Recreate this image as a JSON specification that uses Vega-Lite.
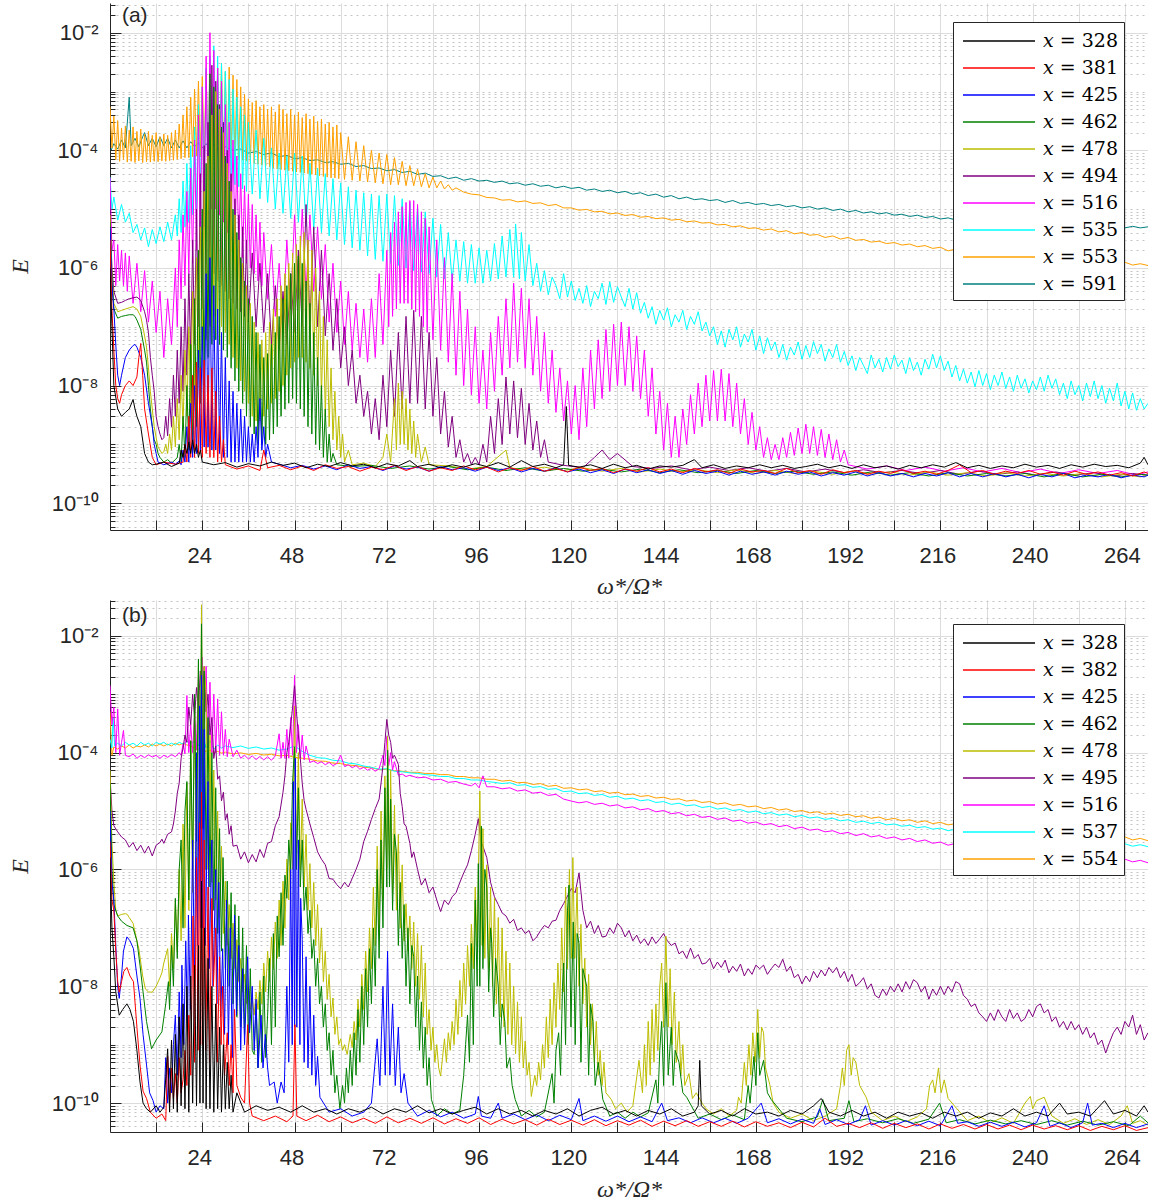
{
"$schema":"https://vega.github.io/schema/vega-lite/v6.json",
"background":"white",
"padding":{"left":8,"top":3,"right":0,"bottom":0},
"spacing":2,
"config":{"view":{"stroke":null},
 "axis":{"labelFont":"Liberation Sans","labelFontSize":22,"labelColor":"#262626","domainColor":"#262626","tickColor":"#262626","gridColor":"#dcdcdc","titleFont":"Liberation Serif","titleFontStyle":"italic","titleFontWeight":"normal","titleFontSize":24,"titleColor":"#262626"},
 "legend":{"orient":"none","fillColor":"white","strokeColor":"#262626","padding":6,"rowPadding":4,"labelFont":"DejaVu Serif","labelFontSize":19,"labelColor":"#000","symbolType":"M-3,0H3","symbolSize":576,"symbolStrokeWidth":1.3,"symbolOffset":27,"labelOffset":31,"labelLimit":0,"title":null}},
"resolve":{"scale":{"color":"independent"}},
"datasets":{
"a591":[{"x":0.3,"y":1e-4},{"x":1,"y":1.3e-4},{"x":2,"y":1.05e-4},{"x":3,"y":1.5e-4},{"x":4,"y":1.1e-4},{"x":5,"y":8e-4},{"x":5.5,"y":1.2e-4},{"x":6.5,"y":1.6e-4},{"x":7.5,"y":1.15e-4},{"x":8.5,"y":1.7e-4},{"x":9,"y":2e-4},{"x":10,"y":1.2e-4},{"x":11,"y":1.6e-4},{"x":12,"y":1.15e-4},{"x":13,"y":1.7e-4},{"x":14,"y":1.2e-4},{"x":15,"y":1.6e-4},{"x":16,"y":1.1e-4},{"x":17,"y":1.5e-4},{"x":18,"y":1.1e-4},{"x":19,"y":1.45e-4},{"x":20,"y":1.1e-4},{"x":21,"y":1.4e-4},{"x":22,"y":1.15e-4},{"x":23,"y":1.35e-4},{"x":24,"y":1.1e-4},{"x":25,"y":1.3e-4},{"x":26,"y":1.05e-4},{"x":27,"y":1.25e-4},{"x":28,"y":1.05e-4},{"x":30,"y":1.15e-4},{"x":32,"y":1e-4},{"x":34,"y":1.05e-4},{"x":36,"y":9e-5},{"x":38,"y":9.5e-5},{"x":40,"y":8.5e-5},{"x":42,"y":9e-5},{"x":44,"y":7.8e-5},{"x":46,"y":8.2e-5},{"x":48,"y":7.2e-5},{"x":50,"y":7.5e-5},{"x":52,"y":6.7e-5},{"x":54,"y":6.9e-5},{"x":56,"y":6.2e-5},{"x":58,"y":6.4e-5},{"x":60,"y":5.8e-5},{"x":62,"y":6e-5},{"x":64,"y":5.3e-5},{"x":66,"y":5.5e-5},{"x":68,"y":4.9e-5},{"x":70,"y":5e-5},{"x":72,"y":4.5e-5},{"x":74,"y":4.7e-5},{"x":76,"y":4.2e-5},{"x":78,"y":4.4e-5},{"x":80,"y":3.9e-5},{"x":82,"y":4.1e-5},{"x":84,"y":3.6e-5},{"x":86,"y":3.7e-5},{"x":88,"y":3.3e-5},{"x":90,"y":3.5e-5},{"x":92,"y":3.1e-5},{"x":94,"y":3.3e-5},{"x":96,"y":3e-5},{"x":98,"y":3.1e-5},{"x":100,"y":2.85e-5},{"x":102,"y":3e-5},{"x":104,"y":2.7e-5},{"x":106,"y":2.8e-5},{"x":108,"y":2.55e-5},{"x":110,"y":2.7e-5},{"x":112,"y":2.45e-5},{"x":114,"y":2.55e-5},{"x":116,"y":2.3e-5},{"x":118,"y":2.45e-5},{"x":120,"y":2.25e-5},{"x":122,"y":2.35e-5},{"x":124,"y":2.1e-5},{"x":126,"y":2.2e-5},{"x":128,"y":2e-5},{"x":130,"y":2.1e-5},{"x":132,"y":1.9e-5},{"x":134,"y":2e-5},{"x":136,"y":1.8e-5},{"x":138,"y":1.9e-5},{"x":140,"y":1.7e-5},{"x":142,"y":1.8e-5},{"x":144,"y":1.6e-5},{"x":146,"y":1.7e-5},{"x":148,"y":1.5e-5},{"x":150,"y":1.6e-5},{"x":152,"y":1.45e-5},{"x":154,"y":1.5e-5},{"x":156,"y":1.4e-5},{"x":158,"y":1.45e-5},{"x":160,"y":1.3e-5},{"x":162,"y":1.4e-5},{"x":164,"y":1.25e-5},{"x":166,"y":1.3e-5},{"x":168,"y":1.2e-5},{"x":170,"y":1.25e-5},{"x":172,"y":1.15e-5},{"x":174,"y":1.2e-5},{"x":176,"y":1.1e-5},{"x":178,"y":1.15e-5},{"x":180,"y":1.05e-5},{"x":182,"y":1.1e-5},{"x":184,"y":1e-5},{"x":186,"y":1.05e-5},{"x":188,"y":9.5e-6},{"x":190,"y":1e-5},{"x":192,"y":9e-6},{"x":194,"y":9.5e-6},{"x":196,"y":8.6e-6},{"x":198,"y":9e-6},{"x":200,"y":8.3e-6},{"x":202,"y":8.7e-6},{"x":204,"y":7.9e-6},{"x":206,"y":8.2e-6},{"x":208,"y":7.5e-6},{"x":210,"y":7.9e-6},{"x":212,"y":7.2e-6},{"x":214,"y":7.5e-6},{"x":216,"y":6.8e-6},{"x":218,"y":7.1e-6},{"x":220,"y":6.5e-6},{"x":222,"y":6.9e-6},{"x":224,"y":6.3e-6},{"x":226,"y":6.6e-6},{"x":228,"y":6.1e-6},{"x":230,"y":6.4e-6},{"x":232,"y":5.9e-6},{"x":234,"y":6.2e-6},{"x":236,"y":5.8e-6},{"x":238,"y":6.1e-6},{"x":240,"y":5.7e-6},{"x":242,"y":5.9e-6},{"x":244,"y":5.5e-6},{"x":246,"y":5.8e-6},{"x":248,"y":5.3e-6},{"x":250,"y":5.6e-6},{"x":252,"y":5.2e-6},{"x":254,"y":5.5e-6},{"x":256,"y":5.1e-6},{"x":258,"y":5.3e-6},{"x":260,"y":5e-6},{"x":262,"y":5.2e-6},{"x":264,"y":4.8e-6},{"x":266,"y":5.1e-6},{"x":268,"y":4.8e-6},{"x":270,"y":5e-6}],
"a553":[{"x":0,"y":5.5e-4},{"x":0.5,"y":1.1e-4},{"x":1,"y":3.8e-4},{"x":1.5,"y":7e-5},{"x":2,"y":3.2e-4},{"x":2.5,"y":6.5e-5},{"x":3,"y":2.4e-4},{"x":3.5,"y":7e-5},{"x":4,"y":2.6e-4},{"x":4.5,"y":6.3e-5},{"x":5,"y":2.2e-4},{"x":5.5,"y":6.5e-5},{"x":6,"y":2.5e-4},{"x":6.5,"y":6.2e-5},{"x":7,"y":2.1e-4},{"x":7.5,"y":6.6e-5},{"x":8,"y":2.3e-4},{"x":8.5,"y":6.2e-5},{"x":9,"y":1.9e-4},{"x":9.5,"y":6.4e-5},{"x":10,"y":2.1e-4},{"x":10.5,"y":6.3e-5},{"x":11,"y":1.8e-4},{"x":11.5,"y":6.5e-5},{"x":12,"y":2e-4},{"x":12.5,"y":6.4e-5},{"x":13,"y":1.7e-4},{"x":13.5,"y":6.6e-5},{"x":14,"y":1.9e-4},{"x":14.5,"y":6.5e-5},{"x":15,"y":1.8e-4},{"x":15.5,"y":6.7e-5},{"x":16,"y":2e-4},{"x":16.5,"y":6.8e-5},{"x":17,"y":2.2e-4},{"x":17.5,"y":7e-5},{"x":18,"y":2.8e-4},{"x":18.5,"y":7.2e-5},{"x":19,"y":4e-4},{"x":19.5,"y":7.5e-5},{"x":20,"y":5.5e-4},{"x":20.5,"y":7.5e-5},{"x":21,"y":8e-4},{"x":21.5,"y":7.8e-5},{"x":22,"y":1.1e-3},{"x":22.5,"y":8e-5},{"x":23,"y":1.5e-3},{"x":23.5,"y":7.8e-5},{"x":24,"y":1.8e-3},{"x":24.5,"y":8e-5},{"x":25,"y":2.2e-3},{"x":25.5,"y":7.8e-5},{"x":26,"y":2.6e-3},{"x":26.5,"y":8e-5},{"x":27,"y":3.2e-3},{"x":27.5,"y":7.6e-5},{"x":28,"y":2.5e-3},{"x":28.5,"y":7.8e-5},{"x":29,"y":3e-3},{"x":29.5,"y":7.6e-5},{"x":30,"y":2.2e-3},{"x":30.5,"y":7.5e-5},{"x":31,"y":2.6e-3},{"x":31.5,"y":7.4e-5},{"x":32,"y":1.9e-3},{"x":32.5,"y":7.2e-5},{"x":33,"y":1.6e-3},{"x":33.5,"y":7e-5},{"x":34,"y":1.2e-3},{"x":34.5,"y":6.8e-5},{"x":35,"y":9e-4},{"x":35.5,"y":6.6e-5},{"x":36,"y":7.5e-4},{"x":36.5,"y":6.3e-5},{"x":37,"y":6.5e-4},{"x":37.5,"y":6e-5},{"x":38,"y":7e-4},{"x":38.5,"y":5.8e-5},{"x":39,"y":5.5e-4},{"x":39.5,"y":5.6e-5},{"x":40,"y":6e-4},{"x":40.5,"y":5.4e-5},{"x":41,"y":5e-4},{"x":41.5,"y":5.2e-5},{"x":42,"y":5.5e-4},{"x":42.5,"y":5e-5},{"x":43,"y":4.5e-4},{"x":43.5,"y":4.8e-5},{"x":44,"y":6e-4},{"x":44.5,"y":4.7e-5},{"x":45,"y":5e-4},{"x":45.5,"y":4.6e-5},{"x":46,"y":4.2e-4},{"x":46.5,"y":4.5e-5},{"x":47,"y":5e-4},{"x":47.5,"y":4.4e-5},{"x":48,"y":4e-4},{"x":48.5,"y":4.3e-5},{"x":49,"y":4.5e-4},{"x":49.5,"y":4.2e-5},{"x":50,"y":3.6e-4},{"x":50.5,"y":4.1e-5},{"x":51,"y":4.2e-4},{"x":51.5,"y":4e-5},{"x":52,"y":3.4e-4},{"x":52.5,"y":3.9e-5},{"x":53,"y":3.8e-4},{"x":53.5,"y":3.8e-5},{"x":54,"y":3.1e-4},{"x":54.5,"y":3.7e-5},{"x":55,"y":3.4e-4},{"x":55.5,"y":3.6e-5},{"x":56,"y":2.8e-4},{"x":56.5,"y":3.5e-5},{"x":57,"y":3e-4},{"x":57.5,"y":3.4e-5},{"x":58,"y":2.5e-4},{"x":58.5,"y":3.4e-5},{"x":59,"y":2.7e-4},{"x":59.5,"y":3.3e-5},{"x":60,"y":2e-4},{"x":61,"y":3.2e-5},{"x":62,"y":1.7e-4},{"x":63,"y":3.1e-5},{"x":64,"y":1.4e-4},{"x":65,"y":3e-5},{"x":66,"y":1.2e-4},{"x":67,"y":2.9e-5},{"x":68,"y":1e-4},{"x":69,"y":2.8e-5},{"x":70,"y":9e-5},{"x":71,"y":2.7e-5},{"x":72,"y":8.5e-5},{"x":73,"y":2.6e-5},{"x":74,"y":7.5e-5},{"x":75,"y":2.6e-5},{"x":76,"y":6.5e-5},{"x":77,"y":2.5e-5},{"x":78,"y":5.5e-5},{"x":79,"y":2.5e-5},{"x":80,"y":4.8e-5},{"x":81,"y":2.4e-5},{"x":82,"y":4e-5},{"x":83,"y":2.3e-5},{"x":84,"y":3.5e-5},{"x":85,"y":2.3e-5},{"x":86,"y":3e-5},{"x":87,"y":2.2e-5},{"x":88,"y":2.6e-5},{"x":89,"y":2.1e-5},{"x":90,"y":2.3e-5},{"x":92,"y":1.95e-5},{"x":94,"y":1.8e-5},{"x":96,"y":1.75e-5},{"x":98,"y":1.58e-5},{"x":100,"y":1.55e-5},{"x":102,"y":1.42e-5},{"x":104,"y":1.45e-5},{"x":106,"y":1.33e-5},{"x":108,"y":1.38e-5},{"x":110,"y":1.25e-5},{"x":112,"y":1.28e-5},{"x":114,"y":1.15e-5},{"x":116,"y":1.2e-5},{"x":118,"y":1.05e-5},{"x":120,"y":1.05e-5},{"x":122,"y":9.6e-6},{"x":124,"y":9.9e-6},{"x":126,"y":9e-6},{"x":128,"y":9.2e-6},{"x":130,"y":8.3e-6},{"x":132,"y":8.6e-6},{"x":134,"y":7.8e-6},{"x":136,"y":8.1e-6},{"x":138,"y":7.3e-6},{"x":140,"y":7.5e-6},{"x":142,"y":6.9e-6},{"x":144,"y":7.1e-6},{"x":146,"y":6.5e-6},{"x":148,"y":6.7e-6},{"x":150,"y":6.1e-6},{"x":152,"y":6.3e-6},{"x":154,"y":5.8e-6},{"x":156,"y":5.9e-6},{"x":158,"y":5.4e-6},{"x":160,"y":5.5e-6},{"x":162,"y":5e-6},{"x":164,"y":5.2e-6},{"x":166,"y":4.7e-6},{"x":168,"y":4.8e-6},{"x":170,"y":4.4e-6},{"x":172,"y":4.6e-6},{"x":174,"y":4.1e-6},{"x":176,"y":4.3e-6},{"x":178,"y":3.8e-6},{"x":180,"y":4e-6},{"x":182,"y":3.6e-6},{"x":184,"y":3.7e-6},{"x":186,"y":3.3e-6},{"x":188,"y":3.5e-6},{"x":190,"y":3.1e-6},{"x":192,"y":3.3e-6},{"x":194,"y":2.95e-6},{"x":196,"y":3.05e-6},{"x":198,"y":2.75e-6},{"x":200,"y":2.85e-6},{"x":202,"y":2.6e-6},{"x":204,"y":2.7e-6},{"x":206,"y":2.45e-6},{"x":208,"y":2.55e-6},{"x":210,"y":2.3e-6},{"x":212,"y":2.4e-6},{"x":214,"y":2.15e-6},{"x":216,"y":2.25e-6},{"x":218,"y":1.95e-6},{"x":220,"y":2.1e-6},{"x":222,"y":1.9e-6},{"x":224,"y":1.95e-6},{"x":226,"y":1.8e-6},{"x":228,"y":1.85e-6},{"x":230,"y":1.72e-6},{"x":232,"y":1.78e-6},{"x":234,"y":1.65e-6},{"x":236,"y":1.7e-6},{"x":238,"y":1.58e-6},{"x":240,"y":1.62e-6},{"x":242,"y":1.52e-6},{"x":244,"y":1.56e-6},{"x":246,"y":1.45e-6},{"x":248,"y":1.5e-6},{"x":250,"y":1.38e-6},{"x":252,"y":1.43e-6},{"x":254,"y":1.32e-6},{"x":256,"y":1.37e-6},{"x":258,"y":1.27e-6},{"x":260,"y":1.3e-6},{"x":262,"y":1.2e-6},{"x":264,"y":1.25e-6},{"x":266,"y":1.12e-6},{"x":268,"y":1.18e-6},{"x":270,"y":1.1e-6}],
"a535":[{"x":0,"y":3.5e-5},{"x":0.5,"y":1e-5},{"x":1,"y":1.6e-5},{"x":2,"y":6.5e-6},{"x":3,"y":1.2e-5},{"x":4,"y":6e-6},{"x":5,"y":8.5e-6},{"x":6,"y":4e-6},{"x":7,"y":5.5e-6},{"x":8,"y":3e-6},{"x":9,"y":4.8e-6},{"x":10,"y":2.3e-6},{"x":11,"y":4.5e-6},{"x":12,"y":2.6e-6},{"x":13,"y":5e-6},{"x":14,"y":2.8e-6},{"x":15,"y":6e-6},{"x":16,"y":3e-6},{"x":17,"y":8e-6},{"x":17.5,"y":3.5e-6},{"x":18,"y":1.5e-5},{"x":18.5,"y":4e-6},{"x":19,"y":3e-5},{"x":19.5,"y":5e-6},{"x":20,"y":6e-5},{"x":20.5,"y":6e-6},{"x":21,"y":1.2e-4},{"x":21.5,"y":8e-6},{"x":22,"y":2.5e-4},{"x":22.5,"y":1e-5},{"x":23,"y":6e-4},{"x":23.5,"y":1.5e-5},{"x":24,"y":1.2e-3},{"x":24.5,"y":2e-5},{"x":25,"y":2.5e-3},{"x":25.5,"y":2.5e-5},{"x":26,"y":4e-3},{"x":26.5,"y":3e-5},{"x":27,"y":6e-3},{"x":27.5,"y":3.5e-5},{"x":28,"y":4e-3},{"x":28.5,"y":3.5e-5},{"x":29,"y":3e-3},{"x":29.5,"y":3e-5},{"x":30,"y":2.2e-3},{"x":30.5,"y":3e-5},{"x":31,"y":1.6e-3},{"x":31.5,"y":2.8e-5},{"x":32,"y":1.1e-3},{"x":32.5,"y":2.6e-5},{"x":33,"y":8e-4},{"x":33.5,"y":2.4e-5},{"x":34,"y":5.5e-4},{"x":34.5,"y":2.2e-5},{"x":35,"y":4e-4},{"x":35.5,"y":2e-5},{"x":36,"y":3e-4},{"x":37,"y":1.8e-5},{"x":38,"y":2.2e-4},{"x":39,"y":1.5e-5},{"x":40,"y":1.6e-4},{"x":41,"y":1.3e-5},{"x":42,"y":1.1e-4},{"x":43,"y":1e-5},{"x":44,"y":9e-5},{"x":45,"y":8.5e-6},{"x":46,"y":8e-5},{"x":47,"y":7e-6},{"x":48,"y":9e-5},{"x":49,"y":6e-6},{"x":50,"y":8e-5},{"x":51,"y":5e-6},{"x":52,"y":6e-5},{"x":53,"y":4.5e-6},{"x":54,"y":5e-5},{"x":55,"y":4e-6},{"x":56,"y":4e-5},{"x":57,"y":3.5e-6},{"x":58,"y":3.3e-5},{"x":59,"y":3e-6},{"x":60,"y":2.8e-5},{"x":61,"y":2.5e-6},{"x":62,"y":2.4e-5},{"x":63,"y":2.2e-6},{"x":64,"y":2.1e-5},{"x":65,"y":2e-6},{"x":66,"y":1.9e-5},{"x":67,"y":1.6e-6},{"x":68,"y":1.8e-5},{"x":69,"y":1.4e-6},{"x":70,"y":1.7e-5},{"x":71,"y":1.3e-6},{"x":72,"y":1.8e-5},{"x":73,"y":1.2e-6},{"x":74,"y":1.7e-5},{"x":75,"y":1.1e-6},{"x":76,"y":1.5e-5},{"x":77,"y":1e-6},{"x":78,"y":1.3e-5},{"x":79,"y":9e-7},{"x":80,"y":1.1e-5},{"x":81,"y":8.5e-7},{"x":82,"y":9e-6},{"x":83,"y":8e-7},{"x":84,"y":7e-6},{"x":85,"y":7e-7},{"x":86,"y":5.5e-6},{"x":87,"y":6.5e-7},{"x":88,"y":4e-6},{"x":89,"y":6e-7},{"x":90,"y":3e-6},{"x":91,"y":6e-7},{"x":92,"y":2.8e-6},{"x":93,"y":5.5e-7},{"x":94,"y":2.5e-6},{"x":95,"y":5.5e-7},{"x":96,"y":2.2e-6},{"x":97,"y":5.5e-7},{"x":98,"y":2e-6},{"x":99,"y":6e-7},{"x":100,"y":2.6e-6},{"x":101,"y":6.5e-7},{"x":102,"y":3.5e-6},{"x":103,"y":7e-7},{"x":104,"y":4.5e-6},{"x":105,"y":7e-7},{"x":105.5,"y":5.6e-6},{"x":106.5,"y":6.5e-7},{"x":107,"y":4e-6},{"x":108,"y":6e-7},{"x":109,"y":2.5e-6},{"x":110,"y":5e-7},{"x":111,"y":1.2e-6},{"x":112,"y":4e-7},{"x":113,"y":9e-7},{"x":114,"y":3.5e-7},{"x":115,"y":7e-7},{"x":116,"y":5e-7},{"x":117,"y":3e-7},{"x":118,"y":8e-7},{"x":119,"y":3.2e-7},{"x":120,"y":6e-7},{"x":121,"y":2.8e-7},{"x":122,"y":4.5e-7},{"x":123,"y":2.5e-7},{"x":124,"y":5e-7},{"x":125,"y":2.2e-7},{"x":126,"y":4e-7},{"x":127,"y":3e-7},{"x":128,"y":5.5e-7},{"x":129,"y":2.4e-7},{"x":130,"y":5.8e-7},{"x":131,"y":2.6e-7},{"x":132,"y":4.8e-7},{"x":133,"y":3.2e-7},{"x":134,"y":2.2e-7},{"x":135,"y":4.5e-7},{"x":136,"y":2e-7},{"x":137,"y":3.8e-7},{"x":138,"y":1.7e-7},{"x":139,"y":2.6e-7},{"x":140,"y":1.4e-7},{"x":141,"y":2.2e-7},{"x":142,"y":1.1e-7},{"x":143,"y":1.9e-7},{"x":144,"y":1.3e-7},{"x":145,"y":2.1e-7},{"x":146,"y":1e-7},{"x":147,"y":1.6e-7},{"x":148,"y":1.2e-7},{"x":149,"y":1.9e-7},{"x":150,"y":9e-8},{"x":151,"y":1.5e-7},{"x":152,"y":1.1e-7},{"x":153,"y":1.8e-7},{"x":154,"y":8.5e-8},{"x":155,"y":1.2e-7},{"x":156,"y":7e-8},{"x":157,"y":1e-7},{"x":158,"y":5e-8},{"x":159,"y":8.5e-8},{"x":160,"y":4.5e-8},{"x":161,"y":9e-8},{"x":162,"y":6e-8},{"x":163,"y":1e-7},{"x":164,"y":4.5e-8},{"x":165,"y":7.5e-8},{"x":166,"y":5.5e-8},{"x":167,"y":9e-8},{"x":168,"y":4e-8},{"x":169,"y":7e-8},{"x":170,"y":3.5e-8},{"x":171,"y":6.5e-8},{"x":172,"y":4e-8},{"x":173,"y":5.5e-8},{"x":174,"y":3e-8},{"x":175,"y":5e-8},{"x":176,"y":2.7e-8},{"x":177,"y":4.5e-8},{"x":178,"y":3.3e-8},{"x":179,"y":5.5e-8},{"x":180,"y":2.8e-8},{"x":181,"y":4.8e-8},{"x":182,"y":3e-8},{"x":183,"y":5.6e-8},{"x":184,"y":3.5e-8},{"x":185,"y":5e-8},{"x":186,"y":2.6e-8},{"x":187,"y":4.2e-8},{"x":188,"y":3e-8},{"x":189,"y":5e-8},{"x":190,"y":2.5e-8},{"x":191,"y":3.8e-8},{"x":192,"y":2.2e-8},{"x":193,"y":3.2e-8},{"x":194,"y":1.8e-8},{"x":195,"y":3e-8},{"x":196,"y":2.2e-8},{"x":197,"y":1.6e-8},{"x":198,"y":3.3e-8},{"x":199,"y":2e-8},{"x":200,"y":2.8e-8},{"x":201,"y":1.7e-8},{"x":202,"y":3e-8},{"x":203,"y":1.9e-8},{"x":204,"y":3.3e-8},{"x":205,"y":2.1e-8},{"x":206,"y":2.7e-8},{"x":207,"y":1.6e-8},{"x":208,"y":3e-8},{"x":209,"y":1.8e-8},{"x":210,"y":2.5e-8},{"x":211,"y":1.5e-8},{"x":212,"y":2.8e-8},{"x":213,"y":1.9e-8},{"x":214,"y":3.4e-8},{"x":215,"y":2e-8},{"x":216,"y":3.2e-8},{"x":217,"y":1.8e-8},{"x":218,"y":2.6e-8},{"x":219,"y":1.4e-8},{"x":220,"y":2.2e-8},{"x":221,"y":1.2e-8},{"x":222,"y":1.9e-8},{"x":223,"y":1.1e-8},{"x":224,"y":1.7e-8},{"x":225,"y":9.5e-9},{"x":226,"y":1.8e-8},{"x":227,"y":1e-8},{"x":228,"y":1.6e-8},{"x":229,"y":8.5e-9},{"x":230,"y":1.5e-8},{"x":231,"y":1e-8},{"x":232,"y":1.7e-8},{"x":233,"y":9e-9},{"x":234,"y":1.4e-8},{"x":235,"y":8e-9},{"x":236,"y":1.5e-8},{"x":237,"y":9e-9},{"x":238,"y":1.3e-8},{"x":239,"y":7.5e-9},{"x":240,"y":1.2e-8},{"x":241,"y":8.5e-9},{"x":242,"y":1.4e-8},{"x":243,"y":8e-9},{"x":244,"y":1.5e-8},{"x":245,"y":9e-9},{"x":246,"y":1.3e-8},{"x":247,"y":7e-9},{"x":248,"y":1.1e-8},{"x":249,"y":6e-9},{"x":250,"y":1.2e-8},{"x":251,"y":7e-9},{"x":252,"y":1e-8},{"x":253,"y":5.5e-9},{"x":254,"y":1.1e-8},{"x":255,"y":6.5e-9},{"x":256,"y":1.2e-8},{"x":257,"y":6e-9},{"x":258,"y":1e-8},{"x":259,"y":5e-9},{"x":260,"y":9e-9},{"x":261,"y":5.5e-9},{"x":262,"y":1.1e-8},{"x":263,"y":4.5e-9},{"x":264,"y":8e-9},{"x":265,"y":4e-9},{"x":266,"y":7.5e-9},{"x":267,"y":3.8e-9},{"x":268,"y":6e-9},{"x":269,"y":4e-9},{"x":270,"y":5e-9}],
"a516":[{"x":0,"y":3.4e-5},{"x":0.5,"y":2e-6},{"x":1,"y":3e-6},{"x":1.5,"y":5e-7},{"x":2,"y":2.5e-6},{"x":2.5,"y":6e-7},{"x":3,"y":2e-6},{"x":3.5,"y":5e-7},{"x":4,"y":1.8e-6},{"x":4.5,"y":4e-7},{"x":5,"y":1.6e-6},{"x":6,"y":2.5e-7},{"x":7,"y":1.2e-6},{"x":8,"y":1.8e-7},{"x":9,"y":9e-7},{"x":10,"y":1.2e-7},{"x":11,"y":6e-7},{"x":12,"y":8e-8},{"x":13,"y":4e-7},{"x":14,"y":3e-8},{"x":15,"y":3e-7},{"x":16,"y":5e-8},{"x":17,"y":1e-6},{"x":17.5,"y":1e-7},{"x":18,"y":3e-6},{"x":18.5,"y":3e-7},{"x":19,"y":8e-6},{"x":19.5,"y":5e-7},{"x":20,"y":2e-5},{"x":20.5,"y":8e-7},{"x":21,"y":5e-5},{"x":21.5,"y":1.2e-6},{"x":22,"y":1.5e-4},{"x":22.5,"y":2e-6},{"x":23,"y":4e-4},{"x":23.5,"y":3e-6},{"x":24,"y":1.2e-3},{"x":24.5,"y":5e-6},{"x":25,"y":4e-3},{"x":25.5,"y":8e-6},{"x":26,"y":1e-2},{"x":26.5,"y":1e-5},{"x":27,"y":5e-3},{"x":27.5,"y":1e-5},{"x":28,"y":2.5e-3},{"x":28.5,"y":8e-6},{"x":29,"y":1.5e-3},{"x":29.5,"y":6e-6},{"x":30,"y":6e-4},{"x":30.5,"y":4e-6},{"x":31,"y":3e-4},{"x":31.5,"y":3e-6},{"x":32,"y":1.5e-4},{"x":32.5,"y":2.5e-6},{"x":33,"y":8e-5},{"x":33.5,"y":2e-6},{"x":34,"y":4e-5},{"x":34.5,"y":1.5e-6},{"x":35,"y":2.5e-5},{"x":35.5,"y":1.2e-6},{"x":36,"y":1.8e-5},{"x":36.5,"y":1e-6},{"x":37,"y":1.2e-5},{"x":37.5,"y":8e-7},{"x":38,"y":8e-6},{"x":38.5,"y":6e-7},{"x":39,"y":6e-6},{"x":39.5,"y":5e-7},{"x":40,"y":4e-6},{"x":41,"y":3e-7},{"x":42,"y":2.5e-6},{"x":43,"y":1.5e-7},{"x":44,"y":1.2e-6},{"x":45,"y":1e-7},{"x":46,"y":3e-6},{"x":47,"y":2e-7},{"x":48,"y":8e-6},{"x":49,"y":3e-7},{"x":50,"y":1e-5},{"x":51,"y":4e-7},{"x":52,"y":8e-6},{"x":53,"y":4e-7},{"x":54,"y":5e-6},{"x":55,"y":3e-7},{"x":56,"y":2.5e-6},{"x":57,"y":1.2e-7},{"x":58,"y":1.2e-6},{"x":59,"y":8e-8},{"x":60,"y":6e-7},{"x":61,"y":5e-8},{"x":62,"y":4e-7},{"x":63,"y":4e-8},{"x":64,"y":2.5e-7},{"x":65,"y":3e-8},{"x":66,"y":2e-7},{"x":67,"y":2.5e-8},{"x":68,"y":3e-7},{"x":69,"y":3e-8},{"x":70,"y":8e-7},{"x":71,"y":5e-8},{"x":72,"y":2e-6},{"x":72.5,"y":1e-7},{"x":73,"y":4e-6},{"x":73.5,"y":1.5e-7},{"x":74,"y":6e-6},{"x":74.5,"y":2e-7},{"x":75,"y":9e-6},{"x":75.5,"y":2.5e-7},{"x":76,"y":1.1e-5},{"x":76.5,"y":2.5e-7},{"x":77,"y":1.3e-5},{"x":77.5,"y":2.5e-7},{"x":78,"y":1.4e-5},{"x":78.5,"y":2e-7},{"x":79,"y":1.4e-5},{"x":79.5,"y":1.8e-7},{"x":80,"y":1.2e-5},{"x":80.5,"y":1.5e-7},{"x":81,"y":9e-6},{"x":81.5,"y":1e-7},{"x":82,"y":7e-6},{"x":82.5,"y":8e-8},{"x":83,"y":5e-6},{"x":84,"y":6e-8},{"x":85,"y":3e-6},{"x":86,"y":4e-8},{"x":87,"y":1.5e-6},{"x":88,"y":2.5e-8},{"x":89,"y":8e-7},{"x":90,"y":1.5e-8},{"x":91,"y":4e-7},{"x":92,"y":1e-8},{"x":93,"y":2e-7},{"x":94,"y":7e-9},{"x":95,"y":1e-7},{"x":96,"y":5e-9},{"x":97,"y":4e-8},{"x":98,"y":4e-9},{"x":99,"y":8e-8},{"x":100,"y":8e-9},{"x":101,"y":1.5e-7},{"x":102,"y":1.5e-8},{"x":103,"y":3e-7},{"x":104,"y":2e-8},{"x":105,"y":5.5e-7},{"x":106,"y":2.5e-8},{"x":107,"y":4.5e-7},{"x":108,"y":2e-8},{"x":109,"y":3e-7},{"x":110,"y":1.5e-8},{"x":111,"y":1.5e-7},{"x":112,"y":8e-9},{"x":113,"y":8e-8},{"x":114,"y":5e-9},{"x":115,"y":4e-8},{"x":116,"y":3.5e-9},{"x":117,"y":2e-8},{"x":118,"y":2.5e-9},{"x":119,"y":1.2e-8},{"x":120,"y":1.5e-9},{"x":121,"y":1e-8},{"x":122,"y":1.2e-9},{"x":123,"y":2e-8},{"x":124,"y":2e-9},{"x":125,"y":4e-8},{"x":126,"y":4e-9},{"x":127,"y":6e-8},{"x":128,"y":6e-9},{"x":129,"y":9e-8},{"x":130,"y":8e-9},{"x":131,"y":1.1e-7},{"x":132,"y":1e-8},{"x":133,"y":1.2e-7},{"x":134,"y":1e-8},{"x":135,"y":1e-7},{"x":136,"y":8e-9},{"x":137,"y":7e-8},{"x":138,"y":6e-9},{"x":139,"y":4e-8},{"x":140,"y":3e-9},{"x":141,"y":2e-8},{"x":142,"y":1.5e-9},{"x":143,"y":8e-9},{"x":144,"y":8e-10},{"x":145,"y":5e-9},{"x":146,"y":6e-10},{"x":147,"y":3e-9},{"x":148,"y":6e-10},{"x":149,"y":4e-9},{"x":150,"y":1e-9},{"x":151,"y":7e-9},{"x":152,"y":1.5e-9},{"x":153,"y":1.1e-8},{"x":154,"y":2e-9},{"x":155,"y":1.5e-8},{"x":156,"y":2.5e-9},{"x":157,"y":1.8e-8},{"x":158,"y":2.5e-9},{"x":159,"y":1.9e-8},{"x":160,"y":2.5e-9},{"x":161,"y":1.6e-8},{"x":162,"y":2e-9},{"x":163,"y":1.1e-8},{"x":164,"y":1.5e-9},{"x":165,"y":6e-9},{"x":166,"y":1e-9},{"x":167,"y":3.5e-9},{"x":168,"y":8e-10},{"x":169,"y":2e-9},{"x":170,"y":6e-10},{"x":171,"y":1.3e-9},{"x":172,"y":5.5e-10},{"x":173,"y":1e-9},{"x":174,"y":5.5e-10},{"x":175,"y":1.3e-9},{"x":176,"y":6e-10},{"x":177,"y":1.6e-9},{"x":178,"y":6.5e-10},{"x":179,"y":1.9e-9},{"x":180,"y":7e-10},{"x":181,"y":2.2e-9},{"x":182,"y":7e-10},{"x":183,"y":2e-9},{"x":184,"y":6.5e-10},{"x":185,"y":1.8e-9},{"x":186,"y":6e-10},{"x":187,"y":1.5e-9},{"x":188,"y":5.5e-10},{"x":189,"y":1.2e-9},{"x":190,"y":5e-10},{"x":191,"y":8e-10},{"x":192,"y":4.5e-10},{"x":197,"y":3.8e-10},{"x":202,"y":4.3e-10},{"x":207,"y":3.6e-10},{"x":212,"y":4.1e-10},{"x":217,"y":3.5e-10},{"x":222,"y":4e-10},{"x":227,"y":3.4e-10},{"x":232,"y":3.9e-10},{"x":237,"y":3.3e-10},{"x":242,"y":3.8e-10},{"x":247,"y":3.2e-10},{"x":252,"y":3.7e-10},{"x":257,"y":3.2e-10},{"x":262,"y":3.6e-10},{"x":267,"y":3e-10},{"x":270,"y":3.4e-10}],
"a494":[{"x":0,"y":1e-5},{"x":0.5,"y":1e-6},{"x":1,"y":4e-7},{"x":2,"y":2.5e-7},{"x":3,"y":2.6e-7},{"x":4,"y":2.8e-7},{"x":5,"y":3e-7},{"x":6,"y":3.1e-7},{"x":7,"y":3.2e-7},{"x":8,"y":2.8e-7},{"x":9,"y":1.8e-7},{"x":9.5,"y":1.3e-7},{"x":10,"y":8e-8},{"x":10.5,"y":3e-8},{"x":11,"y":1.5e-8},{"x":11.5,"y":8e-9},{"x":12,"y":3e-9},{"x":12.5,"y":2e-9},{"x":13,"y":1.5e-9},{"x":13.5,"y":1.2e-9},{"x":14,"y":1.3e-9},{"x":14.5,"y":3e-9},{"x":15,"y":1.4e-9},{"x":15.5,"y":6e-9},{"x":16,"y":2e-9},{"x":16.5,"y":1.5e-8},{"x":17,"y":3e-9},{"x":17.5,"y":4e-8},{"x":18,"y":5e-9},{"x":18.5,"y":1e-7},{"x":19,"y":8e-9},{"x":19.5,"y":3e-7},{"x":20,"y":1.5e-8},{"x":20.5,"y":8e-7},{"x":21,"y":3e-8},{"x":21.5,"y":3e-6},{"x":22,"y":5e-8},{"x":22.5,"y":1e-5},{"x":23,"y":1e-7},{"x":23.5,"y":4e-5},{"x":24,"y":2e-7},{"x":24.5,"y":1.2e-4},{"x":25,"y":3e-7},{"x":25.5,"y":3e-4},{"x":26,"y":5e-7},{"x":26.5,"y":2.8e-3},{"x":27,"y":8e-7},{"x":27.5,"y":1.5e-3},{"x":28,"y":6e-7},{"x":28.5,"y":6e-4},{"x":29,"y":5e-7},{"x":29.5,"y":3e-4},{"x":30,"y":4e-7},{"x":30.5,"y":1e-4},{"x":31,"y":3e-7},{"x":31.5,"y":4e-5},{"x":32,"y":2.5e-7},{"x":32.5,"y":1.5e-5},{"x":33,"y":2e-7},{"x":33.5,"y":8e-6},{"x":34,"y":1.8e-7},{"x":34.5,"y":5e-6},{"x":35,"y":1.5e-7},{"x":35.5,"y":3e-6},{"x":36,"y":1.2e-7},{"x":37,"y":1.8e-6},{"x":38,"y":1e-7},{"x":39,"y":1.2e-6},{"x":40,"y":8e-8},{"x":41,"y":8e-7},{"x":42,"y":5e-8},{"x":43,"y":5e-7},{"x":44,"y":4e-8},{"x":45,"y":4e-7},{"x":46,"y":5e-8},{"x":47,"y":8e-7},{"x":48,"y":8e-8},{"x":49,"y":2e-6},{"x":50,"y":1e-7},{"x":51,"y":1.2e-5},{"x":52,"y":1.2e-7},{"x":53,"y":5e-6},{"x":54,"y":1e-7},{"x":55,"y":2e-6},{"x":56,"y":7e-8},{"x":57,"y":8e-7},{"x":58,"y":4e-8},{"x":59,"y":3e-7},{"x":60,"y":2e-8},{"x":61,"y":1e-7},{"x":62,"y":1e-8},{"x":63,"y":4e-8},{"x":64,"y":5e-9},{"x":65,"y":1.5e-8},{"x":66,"y":3e-9},{"x":67,"y":8e-9},{"x":68,"y":1.5e-9},{"x":69,"y":6e-9},{"x":70,"y":1.2e-9},{"x":71,"y":1.5e-8},{"x":72,"y":2e-9},{"x":73,"y":4e-8},{"x":74,"y":3e-9},{"x":75,"y":8e-8},{"x":76,"y":4e-9},{"x":77,"y":1.5e-7},{"x":78,"y":5e-9},{"x":79,"y":1.9e-7},{"x":80,"y":5e-9},{"x":81,"y":1.5e-7},{"x":82,"y":4e-9},{"x":83,"y":8e-8},{"x":84,"y":3e-9},{"x":85,"y":3e-8},{"x":86,"y":1.5e-9},{"x":87,"y":8e-9},{"x":88,"y":9e-10},{"x":89,"y":3e-9},{"x":90,"y":6e-10},{"x":91,"y":1.2e-9},{"x":92,"y":5e-10},{"x":93,"y":7e-10},{"x":94,"y":4.5e-10},{"x":95,"y":6e-10},{"x":96,"y":4.5e-10},{"x":97,"y":1e-9},{"x":98,"y":5e-10},{"x":99,"y":3e-9},{"x":100,"y":7e-10},{"x":101,"y":6e-9},{"x":102,"y":1e-9},{"x":103,"y":1.4e-8},{"x":104,"y":1.5e-9},{"x":105,"y":1.2e-8},{"x":106,"y":1.3e-9},{"x":107,"y":9e-9},{"x":108,"y":1e-9},{"x":109,"y":5e-9},{"x":110,"y":8e-10},{"x":111,"y":2.5e-9},{"x":112,"y":6e-10},{"x":113,"y":1.2e-9},{"x":114,"y":5e-10},{"x":118,"y":4.4e-10},{"x":123,"y":4e-10},{"x":126,"y":6e-10},{"x":128,"y":8e-10},{"x":130,"y":5.5e-10},{"x":132,"y":7e-10},{"x":136,"y":4.2e-10},{"x":141,"y":3.9e-10},{"x":146,"y":4.3e-10},{"x":151,"y":3.7e-10},{"x":156,"y":4.1e-10},{"x":161,"y":3.6e-10},{"x":166,"y":4e-10},{"x":171,"y":3.5e-10},{"x":176,"y":3.9e-10},{"x":181,"y":3.4e-10},{"x":186,"y":3.8e-10},{"x":191,"y":3.3e-10},{"x":196,"y":3.7e-10},{"x":201,"y":3.3e-10},{"x":206,"y":3.6e-10},{"x":211,"y":3.2e-10},{"x":216,"y":3.6e-10},{"x":221,"y":3.1e-10},{"x":226,"y":3.5e-10},{"x":231,"y":3.1e-10},{"x":236,"y":3.4e-10},{"x":241,"y":3e-10},{"x":246,"y":3.4e-10},{"x":251,"y":3e-10},{"x":256,"y":3.3e-10},{"x":261,"y":2.9e-10},{"x":266,"y":3.2e-10},{"x":270,"y":3e-10}],
"a478":[{"x":0,"y":8e-6},{"x":0.5,"y":8e-7},{"x":1,"y":2.5e-7},{"x":2,"y":1.8e-7},{"x":3,"y":1.9e-7},{"x":4,"y":2e-7},{"x":5,"y":2.1e-7},{"x":6,"y":2.2e-7},{"x":7,"y":2e-7},{"x":8,"y":1.5e-7},{"x":9,"y":7e-8},{"x":9.5,"y":4.5e-8},{"x":10,"y":2e-8},{"x":10.5,"y":8e-9},{"x":11,"y":4e-9},{"x":11.5,"y":2e-9},{"x":12,"y":1.3e-9},{"x":12.5,"y":9e-10},{"x":13,"y":8e-10},{"x":13.5,"y":7e-10},{"x":14,"y":7.5e-10},{"x":14.5,"y":1e-9},{"x":15,"y":7e-10},{"x":15.5,"y":1.5e-9},{"x":16,"y":8e-10},{"x":16.5,"y":3e-9},{"x":17,"y":9e-10},{"x":17.5,"y":6e-9},{"x":18,"y":1.2e-9},{"x":18.5,"y":1.5e-8},{"x":19,"y":2e-9},{"x":19.5,"y":4e-8},{"x":20,"y":3e-9},{"x":20.5,"y":1e-7},{"x":21,"y":5e-9},{"x":21.5,"y":4e-7},{"x":22,"y":1e-8},{"x":22.5,"y":1.5e-6},{"x":23,"y":2e-8},{"x":23.5,"y":5e-6},{"x":24,"y":4e-8},{"x":24.5,"y":2e-5},{"x":25,"y":6e-8},{"x":25.5,"y":8e-5},{"x":26,"y":1e-7},{"x":26.5,"y":4e-4},{"x":27,"y":1.5e-7},{"x":27.5,"y":1e-3},{"x":28,"y":1.2e-7},{"x":28.5,"y":5e-4},{"x":29,"y":1e-7},{"x":29.5,"y":2e-4},{"x":30,"y":8e-8},{"x":30.5,"y":6e-5},{"x":31,"y":5e-8},{"x":31.5,"y":2e-5},{"x":32,"y":3e-8},{"x":32.5,"y":8e-6},{"x":33,"y":2e-8},{"x":33.5,"y":3e-6},{"x":34,"y":1.2e-8},{"x":34.5,"y":1.2e-6},{"x":35,"y":8e-9},{"x":35.5,"y":5e-7},{"x":36,"y":5e-9},{"x":36.5,"y":2.5e-7},{"x":37,"y":3e-9},{"x":37.5,"y":1.2e-7},{"x":38,"y":2.5e-9},{"x":38.5,"y":8e-8},{"x":39,"y":2.5e-9},{"x":39.5,"y":6e-8},{"x":40,"y":3e-9},{"x":40.5,"y":8e-8},{"x":41,"y":4e-9},{"x":41.5,"y":1.2e-7},{"x":42,"y":5e-9},{"x":42.5,"y":2e-7},{"x":43,"y":6e-9},{"x":43.5,"y":3e-7},{"x":44,"y":8e-9},{"x":44.5,"y":5e-7},{"x":45,"y":1e-8},{"x":45.5,"y":8e-7},{"x":46,"y":1.5e-8},{"x":46.5,"y":1.2e-6},{"x":47,"y":2e-8},{"x":47.5,"y":1.8e-6},{"x":48,"y":2.5e-8},{"x":48.5,"y":2.5e-6},{"x":49,"y":3e-8},{"x":49.5,"y":3.5e-6},{"x":50,"y":3e-8},{"x":50.5,"y":4e-6},{"x":51,"y":2.5e-8},{"x":51.5,"y":3e-6},{"x":52,"y":2e-8},{"x":52.5,"y":2e-6},{"x":53,"y":1.5e-8},{"x":53.5,"y":1e-6},{"x":54,"y":1e-8},{"x":54.5,"y":4e-7},{"x":55,"y":6e-9},{"x":55.5,"y":1.5e-7},{"x":56,"y":3e-9},{"x":56.5,"y":6e-8},{"x":57,"y":2e-9},{"x":57.5,"y":2e-8},{"x":58,"y":1.2e-9},{"x":58.5,"y":8e-9},{"x":59,"y":8e-10},{"x":59.5,"y":3e-9},{"x":60,"y":6e-10},{"x":60.5,"y":1.5e-9},{"x":61,"y":5e-10},{"x":62,"y":8e-10},{"x":63,"y":4.5e-10},{"x":66,"y":4.8e-10},{"x":69,"y":4.2e-10},{"x":71,"y":6e-10},{"x":72,"y":1.5e-9},{"x":73,"y":5e-10},{"x":74,"y":6e-9},{"x":74.5,"y":8e-10},{"x":75,"y":1.1e-8},{"x":75.5,"y":1e-9},{"x":76,"y":8e-9},{"x":76.5,"y":1e-9},{"x":77,"y":6e-9},{"x":77.5,"y":8e-10},{"x":78,"y":4e-9},{"x":78.5,"y":7e-10},{"x":79,"y":2.5e-9},{"x":79.5,"y":6e-10},{"x":80,"y":1.5e-9},{"x":81,"y":5e-10},{"x":82,"y":9e-10},{"x":83,"y":4.5e-10},{"x":88,"y":4.3e-10},{"x":93,"y":3.8e-10},{"x":98,"y":4.2e-10},{"x":103,"y":8e-10},{"x":104,"y":4e-10},{"x":108,"y":3.7e-10},{"x":113,"y":4.1e-10},{"x":118,"y":3.6e-10},{"x":123,"y":4e-10},{"x":128,"y":3.5e-10},{"x":133,"y":3.9e-10},{"x":138,"y":3.4e-10},{"x":143,"y":3.8e-10},{"x":148,"y":3.4e-10},{"x":153,"y":3.7e-10},{"x":158,"y":3.3e-10},{"x":163,"y":3.7e-10},{"x":168,"y":3.2e-10},{"x":173,"y":3.6e-10},{"x":178,"y":3.2e-10},{"x":183,"y":3.5e-10},{"x":188,"y":3.1e-10},{"x":193,"y":3.5e-10},{"x":198,"y":3.1e-10},{"x":203,"y":3.4e-10},{"x":208,"y":3e-10},{"x":213,"y":3.4e-10},{"x":218,"y":3e-10},{"x":223,"y":3.3e-10},{"x":228,"y":2.9e-10},{"x":233,"y":3.3e-10},{"x":238,"y":2.9e-10},{"x":243,"y":3.2e-10},{"x":248,"y":2.9e-10},{"x":253,"y":3.2e-10},{"x":258,"y":2.8e-10},{"x":263,"y":3.1e-10},{"x":268,"y":2.8e-10},{"x":270,"y":3e-10}],
"a462":[{"x":0,"y":6e-6},{"x":0.5,"y":6e-7},{"x":1,"y":2e-7},{"x":2,"y":1.4e-7},{"x":3,"y":1.5e-7},{"x":4,"y":1.55e-7},{"x":5,"y":1.6e-7},{"x":6,"y":1.6e-7},{"x":6.5,"y":1.5e-7},{"x":7,"y":1.3e-7},{"x":8,"y":9e-8},{"x":9,"y":4e-8},{"x":9.5,"y":2.5e-8},{"x":10,"y":1e-8},{"x":10.5,"y":4e-9},{"x":11,"y":2e-9},{"x":11.5,"y":1.2e-9},{"x":12,"y":1e-9},{"x":12.5,"y":7e-10},{"x":13,"y":6e-10},{"x":14,"y":5e-10},{"x":15,"y":5.5e-10},{"x":16,"y":4.8e-10},{"x":17,"y":5.5e-10},{"x":17.5,"y":6e-10},{"x":18,"y":1e-9},{"x":18.5,"y":5e-10},{"x":19,"y":3e-9},{"x":19.5,"y":6e-10},{"x":20,"y":1e-8},{"x":20.5,"y":8e-10},{"x":21,"y":5e-8},{"x":21.5,"y":1e-9},{"x":22,"y":3e-7},{"x":22.5,"y":2e-9},{"x":23,"y":2e-6},{"x":23.5,"y":5e-9},{"x":24,"y":1e-5},{"x":24.5,"y":1e-8},{"x":25,"y":6e-5},{"x":25.5,"y":3e-8},{"x":26,"y":2e-3},{"x":26.5,"y":5e-8},{"x":27,"y":1.2e-3},{"x":27.5,"y":6e-8},{"x":28,"y":6e-4},{"x":28.5,"y":5e-8},{"x":29,"y":2.5e-4},{"x":29.5,"y":4e-8},{"x":30,"y":8e-5},{"x":30.5,"y":3e-8},{"x":31,"y":3e-5},{"x":31.5,"y":2e-8},{"x":32,"y":1e-5},{"x":32.5,"y":1.2e-8},{"x":33,"y":4e-6},{"x":33.5,"y":8e-9},{"x":34,"y":1.5e-6},{"x":34.5,"y":5e-9},{"x":35,"y":6e-7},{"x":35.5,"y":3e-9},{"x":36,"y":3e-7},{"x":36.5,"y":2e-9},{"x":37,"y":1.5e-7},{"x":37.5,"y":1.5e-9},{"x":38,"y":8e-8},{"x":38.5,"y":1e-9},{"x":39,"y":5e-8},{"x":39.5,"y":1e-9},{"x":40,"y":3e-8},{"x":40.5,"y":1e-9},{"x":41,"y":3.5e-8},{"x":41.5,"y":1.2e-9},{"x":42,"y":5e-8},{"x":42.5,"y":1.5e-9},{"x":43,"y":8e-8},{"x":43.5,"y":2e-9},{"x":44,"y":1.5e-7},{"x":44.5,"y":3e-9},{"x":45,"y":3e-7},{"x":45.5,"y":4e-9},{"x":46,"y":5e-7},{"x":46.5,"y":5e-9},{"x":47,"y":8e-7},{"x":47.5,"y":6e-9},{"x":48,"y":1.2e-6},{"x":48.5,"y":5e-9},{"x":49,"y":1.6e-6},{"x":49.5,"y":4e-9},{"x":50,"y":1.2e-6},{"x":50.5,"y":3e-9},{"x":51,"y":6e-7},{"x":51.5,"y":2e-9},{"x":52,"y":2.5e-7},{"x":52.5,"y":1.5e-9},{"x":53,"y":8e-8},{"x":53.5,"y":1e-9},{"x":54,"y":3e-8},{"x":54.5,"y":8e-10},{"x":55,"y":1e-8},{"x":55.5,"y":6e-10},{"x":56,"y":4e-9},{"x":56.5,"y":5e-10},{"x":57,"y":1.5e-9},{"x":57.5,"y":5e-10},{"x":58,"y":7e-10},{"x":59,"y":4.5e-10},{"x":63,"y":4.2e-10},{"x":68,"y":4.4e-10},{"x":73,"y":3.9e-10},{"x":78,"y":4.3e-10},{"x":83,"y":3.8e-10},{"x":88,"y":4.2e-10},{"x":93,"y":3.7e-10},{"x":98,"y":4.1e-10},{"x":103,"y":3.6e-10},{"x":108,"y":4e-10},{"x":113,"y":3.5e-10},{"x":118,"y":3.9e-10},{"x":123,"y":3.5e-10},{"x":128,"y":3.8e-10},{"x":133,"y":3.4e-10},{"x":138,"y":3.8e-10},{"x":143,"y":3.3e-10},{"x":148,"y":3.7e-10},{"x":153,"y":3.3e-10},{"x":158,"y":3.6e-10},{"x":163,"y":3.2e-10},{"x":168,"y":3.6e-10},{"x":173,"y":3.2e-10},{"x":178,"y":3.5e-10},{"x":183,"y":3.1e-10},{"x":188,"y":3.4e-10},{"x":193,"y":3e-10},{"x":198,"y":3.4e-10},{"x":203,"y":3e-10},{"x":208,"y":3.3e-10},{"x":213,"y":2.9e-10},{"x":218,"y":3.3e-10},{"x":223,"y":2.9e-10},{"x":228,"y":3.2e-10},{"x":233,"y":2.9e-10},{"x":238,"y":3.2e-10},{"x":243,"y":2.8e-10},{"x":248,"y":3.2e-10},{"x":253,"y":2.8e-10},{"x":258,"y":3.1e-10},{"x":263,"y":2.8e-10},{"x":268,"y":3.1e-10},{"x":270,"y":3e-10}],
"a425":[{"x":0,"y":5e-6},{"x":0.5,"y":5e-7},{"x":1,"y":2e-7},{"x":1.5,"y":5e-8},{"x":2,"y":1.5e-8},{"x":2.5,"y":1e-8},{"x":3,"y":1.5e-8},{"x":4,"y":3e-8},{"x":5,"y":4e-8},{"x":6,"y":4.8e-8},{"x":6.5,"y":5e-8},{"x":7,"y":4.5e-8},{"x":8,"y":3e-8},{"x":9,"y":1.5e-8},{"x":10,"y":5e-9},{"x":11,"y":2e-9},{"x":11.5,"y":1e-9},{"x":12,"y":7e-10},{"x":12.5,"y":5e-10},{"x":14,"y":4.5e-10},{"x":16,"y":5e-10},{"x":17,"y":4.6e-10},{"x":18,"y":5.2e-10},{"x":18.5,"y":4.5e-10},{"x":19,"y":8e-10},{"x":19.5,"y":5e-10},{"x":20,"y":2e-9},{"x":20.5,"y":5e-10},{"x":21,"y":5e-9},{"x":21.5,"y":6e-10},{"x":22,"y":1e-8},{"x":22.5,"y":7e-10},{"x":23,"y":4e-8},{"x":23.5,"y":8e-10},{"x":24,"y":1e-7},{"x":24.5,"y":9e-10},{"x":25,"y":8e-7},{"x":25.5,"y":9e-10},{"x":26,"y":1.5e-6},{"x":26.5,"y":8e-10},{"x":27,"y":5e-7},{"x":27.5,"y":8e-10},{"x":28,"y":2e-7},{"x":28.5,"y":7e-10},{"x":29,"y":8e-8},{"x":29.5,"y":6e-10},{"x":30,"y":3e-8},{"x":30.5,"y":6e-10},{"x":31,"y":1.2e-8},{"x":31.5,"y":5e-10},{"x":32,"y":8e-9},{"x":32.5,"y":5e-10},{"x":33,"y":5e-9},{"x":33.5,"y":5e-10},{"x":34,"y":4e-9},{"x":34.5,"y":5e-10},{"x":35,"y":3e-9},{"x":35.5,"y":5e-10},{"x":36,"y":2e-9},{"x":36.5,"y":5e-10},{"x":37,"y":1.5e-9},{"x":37.5,"y":5e-10},{"x":38,"y":2e-9},{"x":38.5,"y":6e-10},{"x":39,"y":6e-9},{"x":39.5,"y":8e-10},{"x":40,"y":2e-9},{"x":40.5,"y":6e-10},{"x":41,"y":1e-9},{"x":42,"y":5e-10},{"x":44,"y":4.6e-10},{"x":47,"y":4e-10},{"x":50,"y":4.4e-10},{"x":53,"y":3.8e-10},{"x":56,"y":4.3e-10},{"x":59,"y":3.7e-10},{"x":62,"y":4.5e-10},{"x":65,"y":3.9e-10},{"x":68,"y":4.2e-10},{"x":71,"y":3.6e-10},{"x":74,"y":4.3e-10},{"x":77,"y":3.8e-10},{"x":80,"y":4.1e-10},{"x":83,"y":3.5e-10},{"x":86,"y":4.2e-10},{"x":89,"y":3.7e-10},{"x":92,"y":4e-10},{"x":95,"y":3.5e-10},{"x":98,"y":4.1e-10},{"x":101,"y":3.6e-10},{"x":104,"y":4e-10},{"x":107,"y":3.4e-10},{"x":110,"y":3.9e-10},{"x":113,"y":3.5e-10},{"x":116,"y":4e-10},{"x":119,"y":3.4e-10},{"x":122,"y":3.8e-10},{"x":125,"y":3.3e-10},{"x":128,"y":3.7e-10},{"x":131,"y":3.2e-10},{"x":134,"y":3.8e-10},{"x":137,"y":3.3e-10},{"x":140,"y":3.7e-10},{"x":143,"y":3.2e-10},{"x":146,"y":3.6e-10},{"x":149,"y":3.1e-10},{"x":152,"y":3.6e-10},{"x":155,"y":3.2e-10},{"x":158,"y":3.5e-10},{"x":161,"y":3e-10},{"x":164,"y":3.5e-10},{"x":167,"y":3.1e-10},{"x":170,"y":3.4e-10},{"x":173,"y":3e-10},{"x":176,"y":3.5e-10},{"x":179,"y":3.1e-10},{"x":182,"y":3.4e-10},{"x":185,"y":2.9e-10},{"x":188,"y":3.3e-10},{"x":191,"y":3e-10},{"x":194,"y":3.4e-10},{"x":197,"y":2.9e-10},{"x":200,"y":3.3e-10},{"x":203,"y":2.9e-10},{"x":206,"y":3.2e-10},{"x":209,"y":2.8e-10},{"x":212,"y":3.2e-10},{"x":215,"y":2.9e-10},{"x":218,"y":3.3e-10},{"x":221,"y":2.8e-10},{"x":224,"y":3.2e-10},{"x":227,"y":2.8e-10},{"x":230,"y":3.2e-10},{"x":233,"y":2.8e-10},{"x":236,"y":3.1e-10},{"x":239,"y":2.7e-10},{"x":242,"y":3.1e-10},{"x":245,"y":2.8e-10},{"x":248,"y":3.2e-10},{"x":251,"y":2.7e-10},{"x":254,"y":3e-10},{"x":257,"y":2.8e-10},{"x":260,"y":3.1e-10},{"x":263,"y":2.7e-10},{"x":266,"y":3e-10},{"x":269,"y":2.8e-10},{"x":270,"y":3e-10}],
"a381":[{"x":0,"y":3e-6},{"x":0.5,"y":2e-7},{"x":1,"y":4e-8},{"x":1.5,"y":1e-8},{"x":2,"y":6e-9},{"x":2.5,"y":5e-9},{"x":3,"y":7e-9},{"x":4,"y":1e-8},{"x":5,"y":1.2e-8},{"x":6,"y":1e-8},{"x":7,"y":1.4e-8},{"x":7.5,"y":3e-8},{"x":8,"y":5.2e-8},{"x":8.5,"y":1.5e-8},{"x":9,"y":4e-9},{"x":10,"y":1.5e-9},{"x":11,"y":6e-10},{"x":12,"y":4.5e-10},{"x":14,"y":5e-10},{"x":17,"y":4.6e-10},{"x":19,"y":5e-10},{"x":19.5,"y":1e-9},{"x":20,"y":5e-10},{"x":20.5,"y":3e-9},{"x":21,"y":6e-10},{"x":21.5,"y":1.5e-8},{"x":22,"y":6e-10},{"x":22.5,"y":2.5e-8},{"x":23,"y":7e-10},{"x":23.5,"y":2e-8},{"x":24,"y":6e-10},{"x":24.5,"y":2.7e-8},{"x":25,"y":7e-10},{"x":25.5,"y":1.5e-8},{"x":26,"y":6e-10},{"x":26.5,"y":2e-8},{"x":27,"y":6e-10},{"x":27.5,"y":8e-9},{"x":28,"y":5e-10},{"x":28.5,"y":3e-9},{"x":29,"y":5e-10},{"x":29.5,"y":1.2e-9},{"x":30,"y":4.5e-10},{"x":33,"y":3.8e-10},{"x":36,"y":4.3e-10},{"x":39,"y":3.6e-10},{"x":40,"y":8e-10},{"x":41,"y":4e-10},{"x":44,"y":4.4e-10},{"x":47,"y":3.7e-10},{"x":50,"y":4.3e-10},{"x":53,"y":3.6e-10},{"x":56,"y":4.5e-10},{"x":59,"y":3.9e-10},{"x":62,"y":4.2e-10},{"x":65,"y":3.5e-10},{"x":68,"y":4.1e-10},{"x":71,"y":3.7e-10},{"x":74,"y":4.4e-10},{"x":77,"y":3.6e-10},{"x":80,"y":4.2e-10},{"x":83,"y":3.5e-10},{"x":86,"y":4e-10},{"x":89,"y":3.6e-10},{"x":92,"y":4.3e-10},{"x":95,"y":3.7e-10},{"x":98,"y":4.1e-10},{"x":101,"y":3.4e-10},{"x":104,"y":4e-10},{"x":107,"y":3.6e-10},{"x":110,"y":4.2e-10},{"x":113,"y":3.5e-10},{"x":116,"y":3.9e-10},{"x":119,"y":3.4e-10},{"x":122,"y":4.1e-10},{"x":125,"y":3.6e-10},{"x":128,"y":3.9e-10},{"x":131,"y":3.3e-10},{"x":134,"y":3.8e-10},{"x":137,"y":3.5e-10},{"x":140,"y":4e-10},{"x":143,"y":3.4e-10},{"x":146,"y":3.8e-10},{"x":149,"y":3.3e-10},{"x":152,"y":3.9e-10},{"x":155,"y":3.4e-10},{"x":158,"y":3.7e-10},{"x":161,"y":3.2e-10},{"x":164,"y":3.8e-10},{"x":167,"y":3.4e-10},{"x":170,"y":3.6e-10},{"x":173,"y":3.2e-10},{"x":176,"y":3.9e-10},{"x":179,"y":3.3e-10},{"x":182,"y":3.6e-10},{"x":185,"y":3.1e-10},{"x":188,"y":3.7e-10},{"x":191,"y":3.3e-10},{"x":194,"y":3.6e-10},{"x":197,"y":3.1e-10},{"x":200,"y":3.5e-10},{"x":203,"y":3.2e-10},{"x":206,"y":3.7e-10},{"x":209,"y":3.2e-10},{"x":212,"y":3.5e-10},{"x":215,"y":3.1e-10},{"x":218,"y":3.6e-10},{"x":221,"y":4.5e-10},{"x":224,"y":3.3e-10},{"x":227,"y":3.6e-10},{"x":230,"y":3.1e-10},{"x":233,"y":3.5e-10},{"x":236,"y":3.2e-10},{"x":239,"y":3.6e-10},{"x":242,"y":3.1e-10},{"x":245,"y":3.4e-10},{"x":248,"y":3e-10},{"x":251,"y":3.5e-10},{"x":254,"y":3.1e-10},{"x":257,"y":3.4e-10},{"x":260,"y":3e-10},{"x":263,"y":3.3e-10},{"x":266,"y":2.9e-10},{"x":269,"y":3.4e-10},{"x":270,"y":3.2e-10}],
"a328":[{"x":0,"y":1e-6},{"x":0.5,"y":1e-7},{"x":1,"y":1e-8},{"x":2,"y":4e-9},{"x":3,"y":3e-9},{"x":4,"y":3.5e-9},{"x":5,"y":4e-9},{"x":6,"y":5.8e-9},{"x":6.5,"y":4e-9},{"x":7,"y":3e-9},{"x":8,"y":2e-9},{"x":9,"y":7e-10},{"x":10,"y":5e-10},{"x":11,"y":4.5e-10},{"x":12,"y":4.6e-10},{"x":14,"y":5e-10},{"x":16,"y":4.2e-10},{"x":18,"y":4.8e-10},{"x":18.5,"y":8e-10},{"x":19,"y":6e-10},{"x":19.5,"y":1e-9},{"x":20,"y":7e-10},{"x":20.5,"y":1.1e-9},{"x":21,"y":7e-10},{"x":21.5,"y":1.2e-9},{"x":22,"y":7e-10},{"x":22.5,"y":1e-9},{"x":23,"y":6e-10},{"x":23.5,"y":8e-10},{"x":24,"y":5e-10},{"x":27,"y":4.5e-10},{"x":30,"y":4.9e-10},{"x":33,"y":4.1e-10},{"x":36,"y":4.7e-10},{"x":39,"y":4.3e-10},{"x":42,"y":5e-10},{"x":45,"y":4.4e-10},{"x":48,"y":4.8e-10},{"x":51,"y":4e-10},{"x":54,"y":4.6e-10},{"x":57,"y":4.2e-10},{"x":60,"y":4.9e-10},{"x":63,"y":4.3e-10},{"x":66,"y":4.6e-10},{"x":69,"y":4e-10},{"x":72,"y":4.7e-10},{"x":75,"y":4.3e-10},{"x":78,"y":5.3e-10},{"x":80,"y":4.2e-10},{"x":83,"y":4.6e-10},{"x":86,"y":4e-10},{"x":89,"y":4.5e-10},{"x":92,"y":4.1e-10},{"x":95,"y":4.7e-10},{"x":98,"y":4.2e-10},{"x":101,"y":4.9e-10},{"x":104,"y":4.1e-10},{"x":107,"y":5.3e-10},{"x":110,"y":4.2e-10},{"x":113,"y":4.6e-10},{"x":116,"y":4e-10},{"x":118,"y":4.5e-10},{"x":118.7,"y":4.4e-9},{"x":119.3,"y":4.4e-10},{"x":122,"y":4.1e-10},{"x":125,"y":4.5e-10},{"x":128,"y":3.9e-10},{"x":131,"y":4.6e-10},{"x":134,"y":4e-10},{"x":137,"y":4.4e-10},{"x":140,"y":3.8e-10},{"x":143,"y":4.3e-10},{"x":146,"y":4.1e-10},{"x":149,"y":4.4e-10},{"x":152,"y":5.5e-10},{"x":154,"y":4e-10},{"x":157,"y":4.5e-10},{"x":160,"y":3.9e-10},{"x":163,"y":4.3e-10},{"x":166,"y":4e-10},{"x":169,"y":4.5e-10},{"x":172,"y":4e-10},{"x":175,"y":4.4e-10},{"x":178,"y":3.9e-10},{"x":181,"y":4.2e-10},{"x":184,"y":4.6e-10},{"x":187,"y":4e-10},{"x":190,"y":4.4e-10},{"x":193,"y":3.9e-10},{"x":196,"y":4.5e-10},{"x":199,"y":4e-10},{"x":202,"y":4.3e-10},{"x":205,"y":3.8e-10},{"x":208,"y":4.4e-10},{"x":211,"y":4e-10},{"x":214,"y":4.5e-10},{"x":217,"y":4.1e-10},{"x":220,"y":4.9e-10},{"x":223,"y":4e-10},{"x":226,"y":4.4e-10},{"x":229,"y":3.9e-10},{"x":232,"y":4.3e-10},{"x":235,"y":4e-10},{"x":238,"y":4.6e-10},{"x":241,"y":4.1e-10},{"x":244,"y":4.4e-10},{"x":247,"y":3.9e-10},{"x":250,"y":4.5e-10},{"x":253,"y":4.1e-10},{"x":256,"y":4.6e-10},{"x":259,"y":4.2e-10},{"x":262,"y":4.4e-10},{"x":265,"y":4e-10},{"x":268,"y":4.8e-10},{"x":269,"y":6e-10},{"x":270,"y":4.5e-10}],
"b554":[{"x":0,"y":5e-4},{"x":0.5,"y":9e-5},{"x":1,"y":1.25e-4},{"x":2,"y":1.15e-4},{"x":3,"y":1.3e-4},{"x":4,"y":1.2e-4},{"x":5,"y":1.35e-4},{"x":6,"y":1.2e-4},{"x":7,"y":1.3e-4},{"x":8,"y":1.25e-4},{"x":9,"y":1.35e-4},{"x":10,"y":1.25e-4},{"x":11,"y":1.4e-4},{"x":12,"y":1.3e-4},{"x":13,"y":1.4e-4},{"x":14,"y":1.3e-4},{"x":15,"y":1.4e-4},{"x":16,"y":1.3e-4},{"x":17,"y":1.45e-4},{"x":18,"y":1.35e-4},{"x":19,"y":1.45e-4},{"x":20,"y":1.35e-4},{"x":21,"y":1.3e-4},{"x":22,"y":1.2e-4},{"x":23,"y":1.15e-4},{"x":24,"y":1.1e-4},{"x":25,"y":1.05e-4},{"x":26,"y":1.1e-4},{"x":27,"y":1e-4},{"x":28,"y":1.05e-4},{"x":29,"y":9.8e-5},{"x":30,"y":1.02e-4},{"x":32,"y":9.5e-5},{"x":34,"y":9.9e-5},{"x":36,"y":9.3e-5},{"x":38,"y":9.7e-5},{"x":40,"y":9.1e-5},{"x":42,"y":9.4e-5},{"x":44,"y":8.8e-5},{"x":46,"y":9e-5},{"x":48,"y":8.3e-5},{"x":50,"y":8e-5},{"x":52,"y":7.7e-5},{"x":54,"y":7.2e-5},{"x":56,"y":7.1e-5},{"x":58,"y":6.6e-5},{"x":60,"y":6.5e-5},{"x":62,"y":6.1e-5},{"x":64,"y":6e-5},{"x":66,"y":5.6e-5},{"x":68,"y":5.5e-5},{"x":70,"y":5.1e-5},{"x":72,"y":5.2e-5},{"x":74,"y":4.9e-5},{"x":76,"y":4.8e-5},{"x":78,"y":4.6e-5},{"x":80,"y":4.6e-5},{"x":82,"y":4.4e-5},{"x":84,"y":4.4e-5},{"x":86,"y":4.2e-5},{"x":88,"y":4.2e-5},{"x":90,"y":3.9e-5},{"x":92,"y":3.9e-5},{"x":94,"y":3.7e-5},{"x":96,"y":3.7e-5},{"x":98,"y":3.5e-5},{"x":100,"y":3.5e-5},{"x":102,"y":3.25e-5},{"x":104,"y":3.35e-5},{"x":106,"y":3.05e-5},{"x":108,"y":3.1e-5},{"x":110,"y":2.85e-5},{"x":112,"y":2.95e-5},{"x":114,"y":2.65e-5},{"x":116,"y":2.75e-5},{"x":118,"y":2.45e-5},{"x":120,"y":2.5e-5},{"x":122,"y":2.3e-5},{"x":124,"y":2.38e-5},{"x":126,"y":2.15e-5},{"x":128,"y":2.22e-5},{"x":130,"y":2.02e-5},{"x":132,"y":2.1e-5},{"x":134,"y":1.9e-5},{"x":136,"y":1.95e-5},{"x":138,"y":1.78e-5},{"x":140,"y":1.84e-5},{"x":142,"y":1.67e-5},{"x":144,"y":1.72e-5},{"x":146,"y":1.58e-5},{"x":148,"y":1.62e-5},{"x":150,"y":1.48e-5},{"x":152,"y":1.54e-5},{"x":154,"y":1.4e-5},{"x":156,"y":1.45e-5},{"x":158,"y":1.32e-5},{"x":160,"y":1.38e-5},{"x":162,"y":1.25e-5},{"x":164,"y":1.3e-5},{"x":166,"y":1.18e-5},{"x":168,"y":1.22e-5},{"x":170,"y":1.1e-5},{"x":172,"y":1.15e-5},{"x":174,"y":1.04e-5},{"x":176,"y":1.09e-5},{"x":178,"y":9.8e-6},{"x":180,"y":1.02e-5},{"x":182,"y":9.3e-6},{"x":184,"y":9.7e-6},{"x":186,"y":8.8e-6},{"x":188,"y":9.2e-6},{"x":190,"y":8.4e-6},{"x":192,"y":8.8e-6},{"x":194,"y":8e-6},{"x":196,"y":8.3e-6},{"x":198,"y":7.5e-6},{"x":200,"y":7.9e-6},{"x":202,"y":7.1e-6},{"x":204,"y":7.5e-6},{"x":206,"y":6.8e-6},{"x":208,"y":7.1e-6},{"x":210,"y":6.4e-6},{"x":212,"y":6.8e-6},{"x":214,"y":6.1e-6},{"x":216,"y":6.4e-6},{"x":218,"y":5.8e-6},{"x":220,"y":6.1e-6},{"x":222,"y":5.5e-6},{"x":224,"y":5.8e-6},{"x":226,"y":5.2e-6},{"x":228,"y":5.5e-6},{"x":230,"y":5e-6},{"x":232,"y":5.2e-6},{"x":234,"y":4.7e-6},{"x":236,"y":5e-6},{"x":238,"y":4.5e-6},{"x":240,"y":4.7e-6},{"x":242,"y":4.2e-6},{"x":244,"y":4.5e-6},{"x":246,"y":4e-6},{"x":248,"y":4.3e-6},{"x":250,"y":3.9e-6},{"x":252,"y":4.1e-6},{"x":254,"y":3.7e-6},{"x":256,"y":3.9e-6},{"x":258,"y":3.5e-6},{"x":260,"y":3.7e-6},{"x":262,"y":3.3e-6},{"x":264,"y":3.6e-6},{"x":266,"y":3.2e-6},{"x":268,"y":3.4e-6},{"x":270,"y":3.1e-6}],
"b537":[{"x":0,"y":1.7e-4},{"x":0.5,"y":1.2e-4},{"x":0.8,"y":4e-4},{"x":1.2,"y":1.3e-4},{"x":2,"y":1.45e-4},{"x":3,"y":1.3e-4},{"x":4,"y":1.5e-4},{"x":5,"y":1.35e-4},{"x":6,"y":1.45e-4},{"x":7,"y":1.3e-4},{"x":8,"y":1.5e-4},{"x":9,"y":1.35e-4},{"x":10,"y":1.45e-4},{"x":11,"y":1.3e-4},{"x":12,"y":1.5e-4},{"x":13,"y":1.4e-4},{"x":14,"y":1.5e-4},{"x":15,"y":1.35e-4},{"x":16,"y":1.45e-4},{"x":17,"y":1.35e-4},{"x":18,"y":1.5e-4},{"x":19,"y":1.4e-4},{"x":20,"y":1.55e-4},{"x":21,"y":1.45e-4},{"x":22,"y":1.55e-4},{"x":23,"y":1.3e-4},{"x":24,"y":2e-4},{"x":25,"y":1.2e-4},{"x":26,"y":1.6e-4},{"x":27,"y":1.15e-4},{"x":28,"y":1.35e-4},{"x":29,"y":1.2e-4},{"x":30,"y":1.3e-4},{"x":32,"y":1.22e-4},{"x":34,"y":1.3e-4},{"x":36,"y":1.18e-4},{"x":38,"y":1.25e-4},{"x":40,"y":1.15e-4},{"x":42,"y":1.2e-4},{"x":44,"y":1.1e-4},{"x":46,"y":1.15e-4},{"x":48,"y":1.3e-4},{"x":50,"y":1.05e-4},{"x":52,"y":9e-5},{"x":54,"y":8.2e-5},{"x":56,"y":8e-5},{"x":58,"y":7.4e-5},{"x":60,"y":7.2e-5},{"x":62,"y":6.6e-5},{"x":64,"y":6.4e-5},{"x":66,"y":5.9e-5},{"x":68,"y":5.6e-5},{"x":70,"y":5.2e-5},{"x":72,"y":5.3e-5},{"x":74,"y":4.8e-5},{"x":76,"y":4.7e-5},{"x":78,"y":4.5e-5},{"x":80,"y":4.4e-5},{"x":82,"y":4.2e-5},{"x":84,"y":4.1e-5},{"x":86,"y":3.9e-5},{"x":88,"y":3.9e-5},{"x":90,"y":3.6e-5},{"x":92,"y":3.6e-5},{"x":94,"y":3.4e-5},{"x":96,"y":3.4e-5},{"x":98,"y":3.2e-5},{"x":100,"y":3.1e-5},{"x":102,"y":2.95e-5},{"x":104,"y":3.05e-5},{"x":106,"y":2.75e-5},{"x":108,"y":2.82e-5},{"x":110,"y":2.55e-5},{"x":112,"y":2.62e-5},{"x":114,"y":2.35e-5},{"x":116,"y":2.42e-5},{"x":118,"y":2.15e-5},{"x":120,"y":2.2e-5},{"x":122,"y":1.98e-5},{"x":124,"y":2.05e-5},{"x":126,"y":1.85e-5},{"x":128,"y":1.92e-5},{"x":130,"y":1.72e-5},{"x":132,"y":1.79e-5},{"x":134,"y":1.6e-5},{"x":136,"y":1.66e-5},{"x":138,"y":1.5e-5},{"x":140,"y":1.56e-5},{"x":142,"y":1.4e-5},{"x":144,"y":1.45e-5},{"x":146,"y":1.3e-5},{"x":148,"y":1.36e-5},{"x":150,"y":1.23e-5},{"x":152,"y":1.28e-5},{"x":154,"y":1.15e-5},{"x":156,"y":1.2e-5},{"x":158,"y":1.08e-5},{"x":160,"y":1.13e-5},{"x":162,"y":1.02e-5},{"x":164,"y":1.06e-5},{"x":166,"y":9.5e-6},{"x":168,"y":1e-5},{"x":170,"y":9e-6},{"x":172,"y":9.4e-6},{"x":174,"y":8.5e-6},{"x":176,"y":8.9e-6},{"x":178,"y":8e-6},{"x":180,"y":8.4e-6},{"x":182,"y":7.6e-6},{"x":184,"y":7.9e-6},{"x":186,"y":7.2e-6},{"x":188,"y":7.5e-6},{"x":190,"y":6.8e-6},{"x":192,"y":7.1e-6},{"x":194,"y":6.4e-6},{"x":196,"y":6.7e-6},{"x":198,"y":6.1e-6},{"x":200,"y":6.4e-6},{"x":202,"y":5.8e-6},{"x":204,"y":6e-6},{"x":206,"y":5.5e-6},{"x":208,"y":5.7e-6},{"x":210,"y":5.2e-6},{"x":212,"y":5.4e-6},{"x":214,"y":4.9e-6},{"x":216,"y":5.1e-6},{"x":218,"y":4.6e-6},{"x":220,"y":4.9e-6},{"x":222,"y":4.4e-6},{"x":224,"y":4.6e-6},{"x":226,"y":4.2e-6},{"x":228,"y":4.4e-6},{"x":230,"y":3.95e-6},{"x":232,"y":4.15e-6},{"x":234,"y":3.75e-6},{"x":236,"y":3.95e-6},{"x":238,"y":3.55e-6},{"x":240,"y":3.75e-6},{"x":242,"y":3.35e-6},{"x":244,"y":3.55e-6},{"x":246,"y":3.2e-6},{"x":248,"y":3.35e-6},{"x":250,"y":3.05e-6},{"x":252,"y":3.2e-6},{"x":254,"y":2.9e-6},{"x":256,"y":3.05e-6},{"x":258,"y":2.75e-6},{"x":260,"y":2.9e-6},{"x":262,"y":2.65e-6},{"x":264,"y":2.75e-6},{"x":266,"y":2.5e-6},{"x":268,"y":2.65e-6},{"x":270,"y":2.45e-6}],
"b516":[{"x":0,"y":1.4e-3},{"x":0.5,"y":3e-4},{"x":1,"y":6e-4},{"x":1.5,"y":1e-4},{"x":2,"y":5.6e-4},{"x":2.5,"y":9e-5},{"x":3,"y":1.5e-4},{"x":3.5,"y":2.4e-4},{"x":4,"y":9e-5},{"x":5,"y":8.5e-5},{"x":6,"y":9.5e-5},{"x":7,"y":8e-5},{"x":8,"y":9e-5},{"x":9,"y":8.2e-5},{"x":10,"y":9.2e-5},{"x":11,"y":8.4e-5},{"x":12,"y":9e-5},{"x":13,"y":8e-5},{"x":14,"y":9e-5},{"x":15,"y":8.3e-5},{"x":16,"y":9.3e-5},{"x":17,"y":8.5e-5},{"x":18,"y":1e-4},{"x":18.5,"y":9e-5},{"x":19,"y":1.4e-4},{"x":19.5,"y":9.5e-5},{"x":20,"y":9.5e-4},{"x":20.5,"y":1e-4},{"x":21,"y":3e-4},{"x":21.5,"y":1e-4},{"x":22,"y":5e-4},{"x":22.5,"y":1.1e-4},{"x":23,"y":2e-3},{"x":23.5,"y":1.5e-4},{"x":24,"y":4.3e-3},{"x":24.5,"y":2e-4},{"x":25,"y":3e-3},{"x":25.5,"y":1.2e-4},{"x":26,"y":1.6e-3},{"x":26.5,"y":1e-4},{"x":27,"y":1e-3},{"x":27.5,"y":1e-4},{"x":28,"y":8.3e-4},{"x":28.5,"y":9e-5},{"x":29,"y":5e-4},{"x":29.5,"y":9e-5},{"x":30,"y":2.5e-4},{"x":30.5,"y":8.5e-5},{"x":31,"y":1.7e-4},{"x":32,"y":8.5e-5},{"x":33,"y":1.1e-4},{"x":34,"y":8e-5},{"x":35,"y":9e-5},{"x":36,"y":7.8e-5},{"x":37,"y":8.8e-5},{"x":38,"y":7.6e-5},{"x":39,"y":8.6e-5},{"x":40,"y":7.5e-5},{"x":41,"y":8.5e-5},{"x":42,"y":7.4e-5},{"x":43,"y":8.8e-5},{"x":44,"y":2.1e-4},{"x":44.5,"y":8e-5},{"x":45,"y":1.5e-4},{"x":45.5,"y":8e-5},{"x":46,"y":2.5e-4},{"x":46.5,"y":8e-5},{"x":47,"y":4e-4},{"x":47.5,"y":9e-5},{"x":48,"y":2.1e-3},{"x":48.5,"y":1e-4},{"x":49,"y":3e-4},{"x":49.5,"y":8e-5},{"x":50,"y":2e-4},{"x":50.5,"y":7.5e-5},{"x":51,"y":1.3e-4},{"x":52,"y":6.8e-5},{"x":53,"y":7.2e-5},{"x":54,"y":6.5e-5},{"x":55,"y":7e-5},{"x":56,"y":6.2e-5},{"x":57,"y":6.8e-5},{"x":58,"y":6e-5},{"x":59,"y":6.5e-5},{"x":60,"y":9e-5},{"x":61,"y":5.8e-5},{"x":62,"y":6.2e-5},{"x":63,"y":5.5e-5},{"x":64,"y":6e-5},{"x":65,"y":5.2e-5},{"x":66,"y":5.6e-5},{"x":67,"y":5e-5},{"x":68,"y":5.4e-5},{"x":69,"y":4.8e-5},{"x":70,"y":5.3e-5},{"x":71,"y":9e-5},{"x":71.5,"y":6e-5},{"x":72,"y":1.9e-4},{"x":72.5,"y":6e-5},{"x":73,"y":1e-4},{"x":73.5,"y":5e-5},{"x":74,"y":7e-5},{"x":75,"y":4.1e-5},{"x":76,"y":4.3e-5},{"x":77,"y":3.9e-5},{"x":78,"y":4.1e-5},{"x":80,"y":3.7e-5},{"x":82,"y":3.8e-5},{"x":84,"y":3.4e-5},{"x":86,"y":3.5e-5},{"x":88,"y":3.1e-5},{"x":90,"y":3.2e-5},{"x":92,"y":2.9e-5},{"x":94,"y":2.7e-5},{"x":95,"y":3e-5},{"x":96,"y":2.5e-5},{"x":97,"y":4e-5},{"x":98,"y":2.6e-5},{"x":100,"y":2.6e-5},{"x":102,"y":2.4e-5},{"x":104,"y":2.5e-5},{"x":106,"y":2.2e-5},{"x":108,"y":2.3e-5},{"x":110,"y":2.02e-5},{"x":112,"y":2.1e-5},{"x":114,"y":1.85e-5},{"x":116,"y":1.93e-5},{"x":118,"y":1.6e-5},{"x":120,"y":1.48e-5},{"x":122,"y":1.38e-5},{"x":124,"y":1.45e-5},{"x":126,"y":1.3e-5},{"x":128,"y":1.36e-5},{"x":130,"y":1.22e-5},{"x":132,"y":1.28e-5},{"x":134,"y":1.13e-5},{"x":136,"y":1.18e-5},{"x":138,"y":1.05e-5},{"x":140,"y":1.1e-5},{"x":142,"y":9.7e-6},{"x":144,"y":1.02e-5},{"x":146,"y":9e-6},{"x":148,"y":9.4e-6},{"x":150,"y":8.3e-6},{"x":152,"y":8.8e-6},{"x":154,"y":7.8e-6},{"x":156,"y":8.1e-6},{"x":158,"y":7.2e-6},{"x":160,"y":7.6e-6},{"x":162,"y":6.7e-6},{"x":164,"y":7e-6},{"x":166,"y":6.2e-6},{"x":168,"y":6.5e-6},{"x":170,"y":5.8e-6},{"x":172,"y":6.1e-6},{"x":174,"y":5.4e-6},{"x":176,"y":5.7e-6},{"x":178,"y":5e-6},{"x":180,"y":5.3e-6},{"x":182,"y":4.7e-6},{"x":184,"y":4.9e-6},{"x":186,"y":4.4e-6},{"x":188,"y":4.6e-6},{"x":190,"y":4.1e-6},{"x":192,"y":4.3e-6},{"x":194,"y":3.8e-6},{"x":196,"y":4.1e-6},{"x":198,"y":3.6e-6},{"x":200,"y":3.8e-6},{"x":202,"y":3.4e-6},{"x":204,"y":3.6e-6},{"x":206,"y":3.2e-6},{"x":208,"y":3.4e-6},{"x":210,"y":3e-6},{"x":212,"y":3.2e-6},{"x":214,"y":2.8e-6},{"x":216,"y":2.95e-6},{"x":218,"y":2.6e-6},{"x":220,"y":2.8e-6},{"x":222,"y":2.45e-6},{"x":224,"y":2.6e-6},{"x":226,"y":2.3e-6},{"x":228,"y":2.45e-6},{"x":230,"y":2.2e-6},{"x":232,"y":2.3e-6},{"x":234,"y":2.05e-6},{"x":236,"y":2.2e-6},{"x":238,"y":1.95e-6},{"x":240,"y":2.05e-6},{"x":242,"y":1.85e-6},{"x":244,"y":1.95e-6},{"x":246,"y":1.75e-6},{"x":248,"y":1.85e-6},{"x":250,"y":1.65e-6},{"x":252,"y":1.75e-6},{"x":254,"y":1.58e-6},{"x":256,"y":1.66e-6},{"x":258,"y":1.5e-6},{"x":260,"y":1.57e-6},{"x":262,"y":1.42e-6},{"x":264,"y":1.5e-6},{"x":266,"y":1.35e-6},{"x":268,"y":1.43e-6},{"x":270,"y":1.3e-6}],
"b495":[{"x":0,"y":4e-5},{"x":0.5,"y":1e-5},{"x":1,"y":5.6e-6},{"x":2,"y":4.4e-6},{"x":3,"y":3.6e-6},{"x":4,"y":3.2e-6},{"x":5,"y":2.4e-6},{"x":6,"y":2.9e-6},{"x":7,"y":2.1e-6},{"x":8,"y":2.6e-6},{"x":9,"y":1.9e-6},{"x":10,"y":2.5e-6},{"x":11,"y":1.7e-6},{"x":12,"y":2.6e-6},{"x":13,"y":2.9e-6},{"x":13.5,"y":3.3e-6},{"x":14,"y":2.8e-6},{"x":15,"y":4e-6},{"x":16,"y":4.4e-6},{"x":16.5,"y":6e-6},{"x":17,"y":1e-5},{"x":17.5,"y":2e-5},{"x":18,"y":3e-5},{"x":18.5,"y":8e-5},{"x":19,"y":1.2e-4},{"x":19.5,"y":2e-4},{"x":20,"y":1.5e-4},{"x":20.5,"y":6e-4},{"x":21,"y":3e-4},{"x":21.5,"y":1e-3},{"x":22,"y":4e-4},{"x":22.5,"y":1.3e-3},{"x":23,"y":6e-4},{"x":23.5,"y":2.5e-3},{"x":24,"y":8e-4},{"x":24.5,"y":3e-3},{"x":25,"y":5e-4},{"x":25.5,"y":1e-3},{"x":26,"y":2e-4},{"x":26.5,"y":4e-4},{"x":27,"y":8e-5},{"x":27.5,"y":1.3e-4},{"x":28,"y":3.5e-5},{"x":28.5,"y":4e-5},{"x":29,"y":1.5e-5},{"x":29.5,"y":2.1e-5},{"x":30,"y":7e-6},{"x":30.5,"y":9e-6},{"x":31,"y":4e-6},{"x":31.5,"y":5.6e-6},{"x":32,"y":2.5e-6},{"x":33,"y":2.6e-6},{"x":34,"y":1.5e-6},{"x":35,"y":2e-6},{"x":36,"y":1.3e-6},{"x":37,"y":1.8e-6},{"x":38,"y":1.35e-6},{"x":39,"y":2.2e-6},{"x":40,"y":1.6e-6},{"x":41,"y":2.8e-6},{"x":42,"y":3e-6},{"x":43,"y":5.6e-6},{"x":44,"y":8e-6},{"x":45,"y":2.1e-5},{"x":45.5,"y":4e-5},{"x":46,"y":1e-4},{"x":46.5,"y":1.5e-4},{"x":47,"y":2.9e-4},{"x":47.5,"y":6e-4},{"x":48,"y":1.4e-3},{"x":48.5,"y":5e-4},{"x":49,"y":2e-4},{"x":49.5,"y":8e-5},{"x":50,"y":3e-5},{"x":50.5,"y":1.5e-5},{"x":51,"y":1.07e-5},{"x":52,"y":6e-6},{"x":53,"y":3.5e-6},{"x":54,"y":2e-6},{"x":55,"y":1.5e-6},{"x":56,"y":1.2e-6},{"x":57,"y":7e-7},{"x":58,"y":6.8e-7},{"x":59,"y":5.5e-7},{"x":60,"y":4.7e-7},{"x":61,"y":6e-7},{"x":62,"y":5e-7},{"x":63,"y":7e-7},{"x":64,"y":1e-6},{"x":65,"y":1.5e-6},{"x":66,"y":3e-6},{"x":67,"y":4.5e-6},{"x":68,"y":7.2e-6},{"x":69,"y":1.1e-5},{"x":70,"y":1.6e-5},{"x":70.5,"y":3e-5},{"x":71,"y":6e-5},{"x":71.5,"y":1.5e-4},{"x":72,"y":3.7e-4},{"x":72.5,"y":2e-4},{"x":73,"y":1.5e-4},{"x":73.5,"y":8e-5},{"x":74,"y":9e-5},{"x":75,"y":6.3e-5},{"x":75.5,"y":2e-5},{"x":76,"y":1.2e-5},{"x":76.5,"y":6e-6},{"x":77,"y":5.5e-6},{"x":78,"y":2.8e-6},{"x":78.5,"y":1.6e-6},{"x":79,"y":2e-6},{"x":80,"y":1e-6},{"x":81,"y":5.4e-7},{"x":82,"y":7e-7},{"x":83,"y":4e-7},{"x":84,"y":5e-7},{"x":85,"y":3e-7},{"x":86,"y":1.9e-7},{"x":87,"y":3e-7},{"x":88,"y":2.5e-7},{"x":89,"y":3.4e-7},{"x":90,"y":4e-7},{"x":91,"y":6e-7},{"x":92,"y":8.7e-7},{"x":93,"y":1.2e-6},{"x":94,"y":2.1e-6},{"x":95,"y":4e-6},{"x":95.8,"y":7.4e-6},{"x":96.5,"y":3e-6},{"x":97,"y":2.5e-6},{"x":98,"y":1.6e-6},{"x":99,"y":6e-7},{"x":100,"y":3.4e-7},{"x":101,"y":2.5e-7},{"x":102,"y":1.8e-7},{"x":103,"y":1.6e-7},{"x":104,"y":1.2e-7},{"x":105,"y":1.4e-7},{"x":106,"y":9e-8},{"x":107,"y":1e-7},{"x":108,"y":8e-8},{"x":109,"y":9e-8},{"x":110,"y":6e-8},{"x":111,"y":7e-8},{"x":112,"y":9e-8},{"x":113,"y":1.1e-7},{"x":114,"y":1e-7},{"x":115,"y":1.3e-7},{"x":116,"y":1.35e-7},{"x":117,"y":2e-7},{"x":118,"y":2.6e-7},{"x":119,"y":3.5e-7},{"x":120,"y":4.7e-7},{"x":121,"y":4e-7},{"x":122,"y":8.7e-7},{"x":123,"y":2e-7},{"x":124,"y":1e-7},{"x":125,"y":1.3e-7},{"x":126,"y":8e-8},{"x":127,"y":1.1e-7},{"x":128,"y":7e-8},{"x":129,"y":7.2e-8},{"x":130,"y":1e-7},{"x":131,"y":8e-8},{"x":132,"y":1.2e-7},{"x":133,"y":1e-7},{"x":134,"y":7e-8},{"x":135,"y":9e-8},{"x":136,"y":6e-8},{"x":137,"y":7.5e-8},{"x":138,"y":5.4e-8},{"x":139,"y":6.5e-8},{"x":140,"y":5e-8},{"x":141,"y":7e-8},{"x":142,"y":5.4e-8},{"x":143,"y":6.5e-8},{"x":144,"y":8e-8},{"x":145,"y":6e-8},{"x":146,"y":5e-8},{"x":147,"y":5.5e-8},{"x":148,"y":3.6e-8},{"x":149,"y":4e-8},{"x":150,"y":3e-8},{"x":151,"y":4.5e-8},{"x":152,"y":3e-8},{"x":153,"y":3.5e-8},{"x":154,"y":2.4e-8},{"x":155,"y":2.5e-8},{"x":156,"y":3e-8},{"x":157,"y":2e-8},{"x":158,"y":2.6e-8},{"x":159,"y":2.1e-8},{"x":160,"y":2.8e-8},{"x":161,"y":1.7e-8},{"x":162,"y":2.2e-8},{"x":163,"y":1.8e-8},{"x":164,"y":2.4e-8},{"x":165,"y":1.5e-8},{"x":166,"y":2e-8},{"x":167,"y":1.6e-8},{"x":168,"y":2.3e-8},{"x":169,"y":2e-8},{"x":170,"y":2.3e-8},{"x":171,"y":1.6e-8},{"x":172,"y":2e-8},{"x":173,"y":2.4e-8},{"x":174,"y":2.1e-8},{"x":175,"y":2.9e-8},{"x":176,"y":1.8e-8},{"x":177,"y":2.2e-8},{"x":178,"y":1.4e-8},{"x":179,"y":1.6e-8},{"x":180,"y":1.1e-8},{"x":181,"y":1.5e-8},{"x":182,"y":1.2e-8},{"x":183,"y":1.8e-8},{"x":184,"y":1.4e-8},{"x":185,"y":1.9e-8},{"x":186,"y":1.5e-8},{"x":187,"y":2.1e-8},{"x":188,"y":1.7e-8},{"x":189,"y":2.1e-8},{"x":190,"y":1.4e-8},{"x":191,"y":1.8e-8},{"x":192,"y":1.2e-8},{"x":193,"y":1.6e-8},{"x":194,"y":1e-8},{"x":195,"y":1.15e-8},{"x":196,"y":1.4e-8},{"x":197,"y":9e-9},{"x":198,"y":1.1e-8},{"x":199,"y":7e-9},{"x":200,"y":6.3e-9},{"x":201,"y":9e-9},{"x":202,"y":7e-9},{"x":203,"y":1e-8},{"x":204,"y":8e-9},{"x":205,"y":1.1e-8},{"x":206,"y":8e-9},{"x":207,"y":1.2e-8},{"x":208,"y":9e-9},{"x":209,"y":1.3e-8},{"x":210,"y":1.15e-8},{"x":211,"y":8e-9},{"x":212,"y":1e-8},{"x":213,"y":6e-9},{"x":214,"y":9e-9},{"x":215,"y":7e-9},{"x":216,"y":1e-8},{"x":217,"y":7.2e-9},{"x":218,"y":1e-8},{"x":219,"y":8e-9},{"x":220,"y":1.2e-8},{"x":221,"y":1.1e-8},{"x":222,"y":7e-9},{"x":223,"y":6e-9},{"x":224,"y":4.5e-9},{"x":225,"y":5e-9},{"x":226,"y":3.5e-9},{"x":227,"y":3e-9},{"x":228,"y":2.5e-9},{"x":229,"y":3.5e-9},{"x":230,"y":2.6e-9},{"x":231,"y":4e-9},{"x":232,"y":3e-9},{"x":233,"y":2.5e-9},{"x":234,"y":4e-9},{"x":235,"y":2.8e-9},{"x":236,"y":3.5e-9},{"x":237,"y":2.5e-9},{"x":238,"y":2.8e-9},{"x":239,"y":4e-9},{"x":240,"y":3e-9},{"x":241,"y":4.5e-9},{"x":242,"y":5e-9},{"x":243,"y":3.5e-9},{"x":244,"y":4e-9},{"x":245,"y":2.5e-9},{"x":246,"y":3e-9},{"x":247,"y":2e-9},{"x":248,"y":2.5e-9},{"x":249,"y":1.8e-9},{"x":250,"y":2.5e-9},{"x":251,"y":1.8e-9},{"x":252,"y":2.2e-9},{"x":253,"y":1.5e-9},{"x":254,"y":2e-9},{"x":255,"y":1.3e-9},{"x":256,"y":1.6e-9},{"x":257,"y":1e-9},{"x":258,"y":1.2e-9},{"x":259,"y":7.2e-10},{"x":260,"y":1.1e-9},{"x":261,"y":1.6e-9},{"x":262,"y":2e-9},{"x":263,"y":1.5e-9},{"x":264,"y":2.5e-9},{"x":265,"y":2e-9},{"x":266,"y":3.2e-9},{"x":267,"y":1.5e-9},{"x":268,"y":2.2e-9},{"x":269,"y":1.2e-9},{"x":270,"y":1.6e-9}],
"b478":[{"x":0,"y":5e-5},{"x":0.5,"y":3e-6},{"x":1,"y":6e-7},{"x":1.5,"y":2e-7},{"x":2,"y":1.6e-7},{"x":3,"y":1.7e-7},{"x":4,"y":1.75e-7},{"x":4.5,"y":1.7e-7},{"x":5,"y":1.5e-7},{"x":6,"y":1.2e-7},{"x":7,"y":6e-8},{"x":7.5,"y":4.4e-8},{"x":8.5,"y":1.5e-8},{"x":9.2,"y":9e-9},{"x":10,"y":8e-9},{"x":11,"y":7.9e-9},{"x":12,"y":1e-8},{"x":13,"y":1.4e-8},{"x":13.5,"y":1.7e-8},{"x":14,"y":2.5e-8},{"x":15,"y":4.4e-8},{"x":15.5,"y":1e-8},{"x":16,"y":8e-8},{"x":16.5,"y":2e-8},{"x":17,"y":3e-7},{"x":17.5,"y":4e-8},{"x":18,"y":1e-6},{"x":18.5,"y":6e-8},{"x":19,"y":6e-6},{"x":19.5,"y":1e-7},{"x":20,"y":3e-5},{"x":20.5,"y":2e-7},{"x":21,"y":1.6e-4},{"x":21.5,"y":4e-7},{"x":22,"y":6e-4},{"x":22.5,"y":1e-6},{"x":23,"y":3e-3},{"x":23.5,"y":5e-6},{"x":23.8,"y":3.4e-2},{"x":24.2,"y":5e-6},{"x":24.5,"y":3e-3},{"x":25,"y":1e-3},{"x":25.5,"y":1e-6},{"x":26,"y":2e-4},{"x":26.5,"y":6e-7},{"x":27,"y":5e-5},{"x":27.5,"y":3e-7},{"x":28,"y":1e-5},{"x":28.5,"y":1.5e-7},{"x":29,"y":2.5e-6},{"x":29.5,"y":8e-8},{"x":30,"y":6.3e-7},{"x":30.5,"y":5e-8},{"x":31,"y":2.5e-7},{"x":31.5,"y":3e-8},{"x":32,"y":1.2e-7},{"x":32.5,"y":2e-8},{"x":33,"y":6.3e-8},{"x":33.5,"y":1.2e-8},{"x":34,"y":3e-8},{"x":34.5,"y":8e-9},{"x":35,"y":1.6e-8},{"x":35.5,"y":5e-9},{"x":36,"y":1e-8},{"x":36.5,"y":4e-9},{"x":37,"y":6.3e-9},{"x":37.5,"y":3.2e-9},{"x":38,"y":8e-9},{"x":38.5,"y":4e-9},{"x":39,"y":1.26e-8},{"x":39.5,"y":5e-9},{"x":40,"y":2.5e-8},{"x":40.5,"y":8e-9},{"x":41,"y":4e-8},{"x":41.5,"y":1.2e-8},{"x":42,"y":7e-8},{"x":42.5,"y":2e-8},{"x":43,"y":1.26e-7},{"x":43.5,"y":3e-8},{"x":44,"y":3e-7},{"x":44.5,"y":5e-8},{"x":45,"y":6.3e-7},{"x":45.5,"y":1e-7},{"x":46,"y":1.5e-6},{"x":46.5,"y":3e-7},{"x":47,"y":6.3e-6},{"x":47.5,"y":1e-6},{"x":48,"y":6.3e-4},{"x":48.5,"y":2e-6},{"x":49,"y":1e-4},{"x":49.5,"y":1e-6},{"x":50,"y":1.6e-5},{"x":50.5,"y":5e-7},{"x":51,"y":4e-6},{"x":51.5,"y":2e-7},{"x":52,"y":1.26e-6},{"x":52.5,"y":1e-7},{"x":53,"y":6e-7},{"x":53.5,"y":5e-8},{"x":54,"y":2.5e-7},{"x":54.5,"y":2.5e-8},{"x":55,"y":1e-7},{"x":55.5,"y":1.2e-8},{"x":56,"y":4e-8},{"x":56.5,"y":6e-9},{"x":57,"y":1.6e-8},{"x":57.5,"y":3e-9},{"x":58,"y":6.3e-9},{"x":58.5,"y":1.5e-9},{"x":59,"y":3e-9},{"x":59.5,"y":1e-9},{"x":60,"y":1.26e-9},{"x":60.5,"y":8e-10},{"x":61,"y":1e-9},{"x":61.7,"y":6.8e-10},{"x":62.5,"y":1.5e-9},{"x":63,"y":9e-10},{"x":63.5,"y":2.5e-9},{"x":64,"y":1.2e-9},{"x":64.5,"y":6e-9},{"x":65,"y":2e-9},{"x":65.5,"y":1.6e-8},{"x":66,"y":4e-9},{"x":66.5,"y":4e-8},{"x":67,"y":8e-9},{"x":67.5,"y":1e-7},{"x":68,"y":2e-8},{"x":68.5,"y":5e-7},{"x":69,"y":5e-8},{"x":69.5,"y":2.5e-6},{"x":70,"y":1e-7},{"x":70.5,"y":1e-5},{"x":71,"y":3e-7},{"x":71.5,"y":4e-5},{"x":72,"y":1e-6},{"x":72.2,"y":1.9e-4},{"x":72.7,"y":1e-6},{"x":73,"y":5e-5},{"x":73.5,"y":4e-7},{"x":74,"y":1.26e-5},{"x":74.5,"y":2e-7},{"x":75,"y":4e-6},{"x":75.5,"y":1e-7},{"x":76,"y":1.2e-6},{"x":76.5,"y":6e-8},{"x":77,"y":2.6e-7},{"x":77.5,"y":4e-8},{"x":78,"y":1.6e-7},{"x":78.5,"y":2e-8},{"x":79,"y":1.26e-7},{"x":79.5,"y":1e-8},{"x":80,"y":8e-8},{"x":80.5,"y":6e-9},{"x":81,"y":5e-8},{"x":81.5,"y":3e-9},{"x":82,"y":2.5e-8},{"x":82.5,"y":1.5e-9},{"x":83,"y":4e-9},{"x":83.5,"y":8e-10},{"x":84,"y":2e-9},{"x":84.5,"y":5e-10},{"x":85,"y":1e-9},{"x":85.5,"y":4e-10},{"x":86,"y":2.9e-10},{"x":86.5,"y":6e-10},{"x":87,"y":1.26e-9},{"x":87.5,"y":5e-10},{"x":88,"y":1.6e-9},{"x":88.5,"y":8e-10},{"x":89,"y":2.5e-9},{"x":89.5,"y":1e-9},{"x":90,"y":6e-9},{"x":90.5,"y":1.5e-9},{"x":91,"y":1.26e-8},{"x":91.5,"y":3e-9},{"x":92,"y":2.5e-8},{"x":92.5,"y":5e-9},{"x":93,"y":5e-8},{"x":93.5,"y":1e-8},{"x":94,"y":1.15e-7},{"x":94.5,"y":2e-8},{"x":95,"y":5e-7},{"x":95.5,"y":5e-8},{"x":96.2,"y":2.2e-5},{"x":96.8,"y":5e-8},{"x":97,"y":5e-6},{"x":97.5,"y":3e-8},{"x":98,"y":1.2e-6},{"x":98.5,"y":2e-8},{"x":99,"y":5e-7},{"x":99.5,"y":1e-8},{"x":100,"y":3.2e-7},{"x":100.5,"y":5e-9},{"x":101,"y":1.5e-7},{"x":101.5,"y":3e-9},{"x":102,"y":1e-7},{"x":102.5,"y":2e-9},{"x":103,"y":4e-8},{"x":103.5,"y":1.5e-9},{"x":104,"y":2.5e-8},{"x":104.5,"y":1e-9},{"x":105,"y":1e-8},{"x":105.5,"y":7e-10},{"x":106,"y":5.4e-9},{"x":106.5,"y":5e-10},{"x":107,"y":3e-9},{"x":107.5,"y":4e-10},{"x":108,"y":1.15e-9},{"x":108.5,"y":3e-10},{"x":109,"y":5e-10},{"x":109.6,"y":1.3e-10},{"x":110.5,"y":3e-10},{"x":111,"y":2e-10},{"x":111.5,"y":5e-10},{"x":112,"y":2.5e-10},{"x":112.5,"y":1e-9},{"x":113,"y":4e-10},{"x":113.5,"y":3e-9},{"x":114,"y":6e-10},{"x":114.5,"y":6e-9},{"x":115,"y":1e-9},{"x":115.5,"y":1.15e-8},{"x":116,"y":2e-9},{"x":116.5,"y":2.5e-8},{"x":117,"y":4e-9},{"x":117.5,"y":1e-7},{"x":118,"y":8e-9},{"x":118.5,"y":5e-7},{"x":119,"y":2e-8},{"x":119.5,"y":1e-6},{"x":120,"y":3e-8},{"x":120.4,"y":1.6e-6},{"x":120.9,"y":3e-8},{"x":121.5,"y":5e-7},{"x":122,"y":1e-8},{"x":122.5,"y":1.15e-7},{"x":123,"y":5e-9},{"x":123.5,"y":3e-8},{"x":124,"y":2e-9},{"x":124.5,"y":1.6e-8},{"x":125,"y":1e-9},{"x":125.5,"y":5e-9},{"x":126,"y":5e-10},{"x":126.5,"y":2.5e-9},{"x":127,"y":3e-10},{"x":127.5,"y":8e-10},{"x":128,"y":2e-10},{"x":128.5,"y":5e-10},{"x":129,"y":1.5e-10},{"x":130.4,"y":1.15e-10},{"x":131.5,"y":8e-11},{"x":133,"y":1e-10},{"x":134.5,"y":7e-11},{"x":136,"y":9e-11},{"x":137.6,"y":5.4e-10},{"x":138.5,"y":1.5e-10},{"x":139,"y":1e-9},{"x":139.5,"y":2e-10},{"x":140,"y":2.5e-9},{"x":140.5,"y":3e-10},{"x":141,"y":4e-9},{"x":141.5,"y":5e-10},{"x":142,"y":5e-9},{"x":142.5,"y":8e-10},{"x":143,"y":1e-8},{"x":143.5,"y":2.5e-8},{"x":144,"y":2e-9},{"x":144.6,"y":7.2e-8},{"x":145.2,"y":2e-9},{"x":145.7,"y":2e-8},{"x":146.2,"y":1e-9},{"x":146.8,"y":8e-9},{"x":147.3,"y":5e-10},{"x":148,"y":2.5e-9},{"x":148.5,"y":3e-10},{"x":149,"y":1e-9},{"x":149.5,"y":2e-10},{"x":150.6,"y":3.2e-10},{"x":151.5,"y":1.2e-10},{"x":152.5,"y":1.5e-10},{"x":154,"y":1e-10},{"x":155,"y":8e-11},{"x":157,"y":6.5e-11},{"x":159,"y":8e-11},{"x":161,"y":6e-11},{"x":163,"y":7.5e-11},{"x":163.5,"y":1.26e-10},{"x":164.2,"y":1e-10},{"x":165,"y":5e-10},{"x":165.5,"y":2e-10},{"x":166.2,"y":1e-9},{"x":166.7,"y":3e-10},{"x":167.2,"y":1.6e-9},{"x":167.8,"y":5e-10},{"x":168.5,"y":4e-9},{"x":169,"y":6e-10},{"x":169.5,"y":2e-9},{"x":170,"y":1.6e-9},{"x":170.5,"y":4e-10},{"x":171.6,"y":2.1e-10},{"x":172.5,"y":1e-10},{"x":174,"y":7e-11},{"x":177,"y":5.5e-11},{"x":180,"y":6.5e-11},{"x":183,"y":5e-11},{"x":186,"y":6e-11},{"x":189,"y":8e-11},{"x":190,"y":2e-10},{"x":190.5,"y":4e-10},{"x":191,"y":2e-10},{"x":191.6,"y":8e-10},{"x":192.2,"y":1e-9},{"x":192.8,"y":3e-10},{"x":193.3,"y":6e-10},{"x":194,"y":5e-10},{"x":195,"y":2e-10},{"x":196.7,"y":1.26e-10},{"x":198,"y":7e-11},{"x":201,"y":5e-11},{"x":204,"y":6e-11},{"x":207,"y":4.8e-11},{"x":210,"y":5.8e-11},{"x":212.4,"y":8e-11},{"x":213.2,"y":2e-10},{"x":214,"y":2.5e-10},{"x":214.6,"y":1.5e-10},{"x":215.5,"y":4e-10},{"x":216.2,"y":1.5e-10},{"x":217,"y":2.5e-10},{"x":218,"y":1.2e-10},{"x":220.3,"y":8e-11},{"x":223,"y":5e-11},{"x":226,"y":6e-11},{"x":229,"y":4.6e-11},{"x":232,"y":5.6e-11},{"x":235,"y":4.5e-11},{"x":238,"y":1e-10},{"x":239.4,"y":1.3e-10},{"x":240,"y":8e-11},{"x":241,"y":1.1e-10},{"x":243,"y":1.26e-10},{"x":245,"y":6e-11},{"x":248,"y":4.5e-11},{"x":251,"y":5.4e-11},{"x":254,"y":4.3e-11},{"x":257,"y":5.2e-11},{"x":260,"y":4.3e-11},{"x":263,"y":6e-11},{"x":264.6,"y":9e-11},{"x":266,"y":4.5e-11},{"x":268,"y":5e-11},{"x":270,"y":4.2e-11}],
"b462":[{"x":0,"y":3e-5},{"x":0.5,"y":1e-6},{"x":1,"y":2.5e-7},{"x":2,"y":1.6e-7},{"x":3,"y":1.3e-7},{"x":4.4,"y":1.1e-7},{"x":6,"y":1e-7},{"x":7,"y":6e-8},{"x":7.8,"y":2.3e-8},{"x":8.6,"y":8e-9},{"x":9.5,"y":2.5e-9},{"x":10.8,"y":8.5e-10},{"x":12,"y":1.2e-9},{"x":13.5,"y":1.66e-9},{"x":14.5,"y":5e-9},{"x":15.2,"y":1.2e-8},{"x":15.5,"y":4e-9},{"x":16,"y":5e-8},{"x":16.5,"y":1e-8},{"x":17,"y":3.2e-7},{"x":17.5,"y":3e-8},{"x":18,"y":1e-6},{"x":18.5,"y":3.2e-6},{"x":19,"y":1e-7},{"x":19.5,"y":1e-5},{"x":20,"y":3.2e-5},{"x":20.5,"y":3e-7},{"x":21,"y":1.6e-4},{"x":21.5,"y":1e-6},{"x":22,"y":1e-3},{"x":22.5,"y":3e-6},{"x":23,"y":4e-3},{"x":23.4,"y":5e-6},{"x":23.8,"y":1.6e-2},{"x":24.2,"y":5e-6},{"x":24.5,"y":2.5e-3},{"x":25,"y":1e-6},{"x":25.5,"y":4e-4},{"x":26,"y":5e-7},{"x":26.5,"y":1e-4},{"x":27,"y":2e-7},{"x":27.5,"y":2.5e-5},{"x":28,"y":8e-8},{"x":28.5,"y":5e-6},{"x":29,"y":4e-8},{"x":29.4,"y":1.6e-6},{"x":30,"y":2e-8},{"x":30.5,"y":6.3e-7},{"x":31,"y":1e-8},{"x":31.5,"y":4e-7},{"x":32,"y":5e-9},{"x":32.5,"y":2.5e-7},{"x":33,"y":3e-9},{"x":33.5,"y":1.6e-7},{"x":34,"y":2e-9},{"x":34.5,"y":1e-7},{"x":35,"y":1.5e-9},{"x":35.5,"y":5e-8},{"x":36,"y":1e-9},{"x":36.5,"y":2e-8},{"x":37,"y":8e-10},{"x":37.5,"y":6.8e-10},{"x":38,"y":5e-9},{"x":38.5,"y":4e-10},{"x":39,"y":8e-9},{"x":39.5,"y":5e-10},{"x":40,"y":1.5e-8},{"x":40.5,"y":6e-10},{"x":41,"y":3.2e-9},{"x":41.5,"y":3e-8},{"x":42,"y":1e-9},{"x":42.5,"y":8e-8},{"x":43,"y":2e-9},{"x":43.5,"y":1.6e-7},{"x":44,"y":3.2e-8},{"x":44.5,"y":4e-7},{"x":45,"y":5e-8},{"x":45.5,"y":8e-7},{"x":46,"y":3.2e-7},{"x":46.5,"y":3.2e-6},{"x":47,"y":1e-6},{"x":47.5,"y":3.2e-5},{"x":48,"y":1.26e-4},{"x":48.5,"y":1e-6},{"x":49,"y":2.5e-5},{"x":49.5,"y":5e-7},{"x":50,"y":3.2e-6},{"x":50.5,"y":2e-7},{"x":51,"y":5e-7},{"x":51.5,"y":8e-8},{"x":52,"y":2e-7},{"x":52.5,"y":3e-8},{"x":53,"y":6.3e-8},{"x":53.5,"y":1e-8},{"x":54,"y":3e-8},{"x":54.5,"y":5e-9},{"x":55,"y":1e-8},{"x":55.5,"y":2e-9},{"x":56,"y":5e-9},{"x":56.5,"y":8e-10},{"x":57,"y":1.6e-9},{"x":57.5,"y":3e-10},{"x":58,"y":8e-10},{"x":58.5,"y":1.5e-10},{"x":59,"y":3e-10},{"x":59.8,"y":8e-11},{"x":60.5,"y":2e-10},{"x":61,"y":1e-10},{"x":61.5,"y":4e-10},{"x":62,"y":1.5e-10},{"x":62.5,"y":8e-10},{"x":63,"y":2e-10},{"x":63.5,"y":1.6e-9},{"x":64,"y":3e-10},{"x":64.5,"y":4e-9},{"x":65,"y":5e-10},{"x":65.5,"y":1e-8},{"x":66,"y":1e-9},{"x":66.5,"y":2e-8},{"x":67,"y":2e-9},{"x":67.5,"y":4.4e-8},{"x":68,"y":5e-9},{"x":68.5,"y":1e-7},{"x":69,"y":1e-8},{"x":69.5,"y":1e-6},{"x":70,"y":3e-8},{"x":70.5,"y":3.2e-6},{"x":71,"y":1e-7},{"x":71.5,"y":2.5e-5},{"x":72,"y":5e-7},{"x":72.2,"y":1.1e-4},{"x":72.7,"y":5e-7},{"x":73,"y":1.6e-5},{"x":73.5,"y":2e-7},{"x":74,"y":4e-6},{"x":74.5,"y":2e-6},{"x":75,"y":5e-8},{"x":75.5,"y":6e-7},{"x":76,"y":3e-8},{"x":76.5,"y":2.5e-7},{"x":77,"y":1e-8},{"x":77.5,"y":1e-7},{"x":78,"y":5e-9},{"x":78.5,"y":5e-8},{"x":79,"y":3.2e-8},{"x":79.5,"y":2e-9},{"x":80,"y":1.5e-8},{"x":80.5,"y":8e-10},{"x":81,"y":5.4e-9},{"x":81.5,"y":4e-10},{"x":82,"y":2e-9},{"x":82.5,"y":2e-10},{"x":83,"y":6e-10},{"x":83.6,"y":1.15e-10},{"x":85,"y":6e-11},{"x":87,"y":8e-11},{"x":89,"y":6.5e-11},{"x":91,"y":7.5e-11},{"x":92,"y":3e-10},{"x":92.5,"y":1e-9},{"x":93,"y":3.2e-9},{"x":93.5,"y":5e-10},{"x":94,"y":5.4e-8},{"x":94.5,"y":1e-9},{"x":95,"y":3e-7},{"x":95.5,"y":1e-8},{"x":95.8,"y":1.26e-6},{"x":96.2,"y":1e-8},{"x":96.6,"y":5.5e-6},{"x":97,"y":2e-8},{"x":97.5,"y":1e-6},{"x":98,"y":5e-7},{"x":98.5,"y":8e-9},{"x":99,"y":1e-7},{"x":99.3,"y":5.4e-8},{"x":99.8,"y":3e-9},{"x":100.3,"y":3e-8},{"x":101,"y":1e-8},{"x":101.5,"y":1e-9},{"x":102,"y":5e-9},{"x":102.7,"y":2.5e-9},{"x":103.2,"y":4e-10},{"x":104,"y":6e-10},{"x":104.6,"y":2e-10},{"x":105.4,"y":1.15e-10},{"x":107,"y":6e-11},{"x":109,"y":7.5e-11},{"x":111,"y":5.8e-11},{"x":113,"y":7e-11},{"x":115,"y":3.2e-10},{"x":115.5,"y":1e-10},{"x":116,"y":8e-10},{"x":116.7,"y":1.6e-9},{"x":117.2,"y":3e-10},{"x":117.7,"y":1e-8},{"x":118,"y":2.5e-8},{"x":118.5,"y":1e-9},{"x":119,"y":2e-7},{"x":119.4,"y":5.4e-7},{"x":119.9,"y":2e-9},{"x":120.5,"y":1.26e-7},{"x":121,"y":1e-9},{"x":121.5,"y":8e-8},{"x":122,"y":5.4e-8},{"x":122.5,"y":5e-10},{"x":123,"y":2e-8},{"x":124,"y":1e-8},{"x":124.5,"y":3e-10},{"x":125,"y":5e-9},{"x":125.6,"y":2.5e-9},{"x":126.2,"y":2e-10},{"x":127,"y":5e-10},{"x":128.2,"y":1.15e-10},{"x":130,"y":6e-11},{"x":132,"y":7e-11},{"x":134,"y":5.5e-11},{"x":136,"y":7e-11},{"x":138,"y":5.8e-11},{"x":140,"y":6.8e-11},{"x":142,"y":2.5e-10},{"x":142.5,"y":1e-10},{"x":143,"y":8e-10},{"x":143.5,"y":2.5e-9},{"x":144,"y":2e-10},{"x":144.6,"y":1.15e-8},{"x":145.2,"y":3e-10},{"x":146,"y":2e-9},{"x":146.5,"y":2e-10},{"x":147,"y":8e-10},{"x":148,"y":5e-10},{"x":149,"y":1.5e-10},{"x":150,"y":1.26e-10},{"x":153,"y":5.5e-11},{"x":156,"y":6.5e-11},{"x":159,"y":5.2e-11},{"x":162,"y":6.3e-11},{"x":165,"y":5.2e-11},{"x":166,"y":2e-10},{"x":166.5,"y":1e-10},{"x":167.5,"y":6.3e-10},{"x":168,"y":2e-10},{"x":168.5,"y":1.6e-9},{"x":169,"y":3e-10},{"x":170,"y":5.4e-10},{"x":171,"y":1.5e-10},{"x":172,"y":1.15e-10},{"x":176,"y":5.5e-11},{"x":180,"y":4.8e-11},{"x":184,"y":5.8e-11},{"x":185.4,"y":1.15e-10},{"x":187,"y":5e-11},{"x":191,"y":5.5e-11},{"x":192.2,"y":1.1e-10},{"x":193.5,"y":4.8e-11},{"x":197,"y":5.4e-11},{"x":201,"y":4.6e-11},{"x":205,"y":5.4e-11},{"x":209,"y":4.5e-11},{"x":213,"y":5.3e-11},{"x":215.8,"y":1e-10},{"x":217.5,"y":4.6e-11},{"x":221,"y":5.2e-11},{"x":225,"y":4.4e-11},{"x":229,"y":5.1e-11},{"x":233,"y":4.4e-11},{"x":237,"y":5e-11},{"x":241,"y":4.3e-11},{"x":245,"y":5e-11},{"x":249,"y":4.2e-11},{"x":253,"y":4.9e-11},{"x":257,"y":4.2e-11},{"x":261,"y":4.8e-11},{"x":265,"y":4.1e-11},{"x":268,"y":6e-11},{"x":270,"y":4.6e-11}],
"b425":[{"x":0,"y":1e-5},{"x":0.5,"y":6e-7},{"x":1,"y":3e-7},{"x":1.5,"y":5e-8},{"x":2,"y":1e-8},{"x":2.4,"y":6.2e-9},{"x":3,"y":1.5e-8},{"x":3.5,"y":4e-8},{"x":4.4,"y":7e-8},{"x":5.2,"y":6e-8},{"x":6.1,"y":4.4e-8},{"x":7,"y":1.5e-8},{"x":7.8,"y":6.2e-9},{"x":8.6,"y":1.5e-9},{"x":9.5,"y":4.5e-10},{"x":10.3,"y":1.5e-10},{"x":11.2,"y":1.1e-10},{"x":12,"y":7e-11},{"x":13,"y":9e-11},{"x":14,"y":8e-11},{"x":14.5,"y":6e-10},{"x":15,"y":1e-10},{"x":15.5,"y":4e-10},{"x":16,"y":1.5e-10},{"x":16.5,"y":1e-9},{"x":17,"y":3.2e-9},{"x":17.5,"y":3e-10},{"x":18,"y":8e-9},{"x":18.5,"y":6e-10},{"x":18.7,"y":2.3e-8},{"x":19.2,"y":1e-9},{"x":19.7,"y":6e-8},{"x":20.2,"y":2e-9},{"x":20.4,"y":1.66e-7},{"x":20.9,"y":4e-9},{"x":21.5,"y":3.2e-6},{"x":22,"y":1e-8},{"x":22.5,"y":1e-4},{"x":22.8,"y":5e-8},{"x":23.3,"y":6.3e-4},{"x":23.6,"y":1e-7},{"x":23.8,"y":2.1e-3},{"x":24.1,"y":1e-7},{"x":24.5,"y":2.5e-4},{"x":24.8,"y":5e-8},{"x":25.5,"y":3.2e-5},{"x":25.8,"y":2e-8},{"x":26.5,"y":3.2e-6},{"x":26.8,"y":1e-8},{"x":27.5,"y":1e-6},{"x":27.8,"y":5e-9},{"x":28.3,"y":6e-7},{"x":28.8,"y":3e-9},{"x":29.3,"y":4.4e-8},{"x":29.8,"y":1.5e-9},{"x":30.3,"y":3e-7},{"x":30.8,"y":1e-9},{"x":31.3,"y":1e-7},{"x":31.8,"y":6e-10},{"x":32.4,"y":1.66e-7},{"x":32.9,"y":3.2e-9},{"x":33.5,"y":5e-8},{"x":34,"y":8e-10},{"x":34.5,"y":2e-8},{"x":35,"y":1e-9},{"x":35.8,"y":3.2e-8},{"x":36.3,"y":1.6e-9},{"x":37,"y":1e-8},{"x":37.5,"y":8e-10},{"x":38,"y":6e-9},{"x":38.5,"y":4e-10},{"x":39.3,"y":3.2e-9},{"x":39.8,"y":4e-10},{"x":40.4,"y":1.5e-9},{"x":41,"y":4e-10},{"x":41.5,"y":2e-10},{"x":42.7,"y":2.3e-10},{"x":43.5,"y":1e-10},{"x":44.5,"y":2.3e-10},{"x":45.3,"y":1.5e-10},{"x":46,"y":1e-8},{"x":46.5,"y":5e-10},{"x":47,"y":1e-6},{"x":47.4,"y":1e-9},{"x":47.7,"y":3.2e-5},{"x":48,"y":2e-9},{"x":48.2,"y":8e-5},{"x":48.6,"y":2e-9},{"x":49,"y":3.2e-6},{"x":49.4,"y":1e-9},{"x":49.6,"y":3.2e-7},{"x":50,"y":6.3e-8},{"x":50.5,"y":5e-10},{"x":51,"y":3.2e-8},{"x":51.5,"y":4e-10},{"x":52,"y":1e-8},{"x":52.5,"y":3e-10},{"x":53,"y":3.2e-9},{"x":53.5,"y":2e-10},{"x":54,"y":6.3e-10},{"x":54.6,"y":1.26e-10},{"x":57,"y":7e-11},{"x":60,"y":8e-11},{"x":63,"y":6e-11},{"x":66,"y":7e-11},{"x":68,"y":1e-10},{"x":69.5,"y":1.26e-9},{"x":70.2,"y":2e-10},{"x":71,"y":1e-8},{"x":71.6,"y":3e-10},{"x":72.2,"y":4e-8},{"x":72.8,"y":3e-10},{"x":73.5,"y":5e-9},{"x":74.2,"y":2e-10},{"x":75,"y":2e-9},{"x":75.7,"y":1.5e-10},{"x":76.5,"y":3.2e-10},{"x":77.5,"y":1e-10},{"x":80,"y":6e-11},{"x":83,"y":7.5e-11},{"x":86,"y":5.8e-11},{"x":89,"y":7e-11},{"x":92,"y":5.5e-11},{"x":95,"y":6.5e-11},{"x":95.8,"y":1.3e-10},{"x":96.6,"y":6e-11},{"x":99,"y":5.5e-11},{"x":101,"y":1e-10},{"x":102,"y":5.5e-11},{"x":105,"y":6.5e-11},{"x":108,"y":5.2e-11},{"x":111,"y":6.3e-11},{"x":114,"y":5e-11},{"x":117,"y":6.2e-11},{"x":120,"y":5.2e-11},{"x":122,"y":1.2e-10},{"x":123,"y":5e-11},{"x":126,"y":6e-11},{"x":129,"y":4.9e-11},{"x":132,"y":6e-11},{"x":135,"y":4.8e-11},{"x":138,"y":5.8e-11},{"x":141,"y":4.8e-11},{"x":143.5,"y":1e-10},{"x":145,"y":5e-11},{"x":148,"y":5.6e-11},{"x":151,"y":4.6e-11},{"x":154,"y":5.6e-11},{"x":157,"y":4.6e-11},{"x":160,"y":5.5e-11},{"x":163,"y":4.5e-11},{"x":166,"y":5.5e-11},{"x":169.4,"y":1e-10},{"x":171,"y":4.6e-11},{"x":174,"y":5.4e-11},{"x":177,"y":4.4e-11},{"x":180,"y":5.3e-11},{"x":183,"y":4.5e-11},{"x":184.6,"y":8e-11},{"x":186,"y":4.3e-11},{"x":189,"y":5.2e-11},{"x":192,"y":4.3e-11},{"x":195,"y":5.2e-11},{"x":196.5,"y":9e-11},{"x":198,"y":4.2e-11},{"x":201,"y":5e-11},{"x":204,"y":4.2e-11},{"x":207,"y":5e-11},{"x":210,"y":4.1e-11},{"x":213,"y":4.9e-11},{"x":216,"y":4.1e-11},{"x":219,"y":9e-11},{"x":220.5,"y":4.5e-11},{"x":223,"y":4.8e-11},{"x":226,"y":4e-11},{"x":229,"y":4.7e-11},{"x":232,"y":4e-11},{"x":235,"y":4.7e-11},{"x":238,"y":3.9e-11},{"x":241,"y":4.6e-11},{"x":243,"y":9e-11},{"x":244.5,"y":4e-11},{"x":247,"y":4.6e-11},{"x":250,"y":3.8e-11},{"x":253,"y":4.6e-11},{"x":254.3,"y":1e-10},{"x":255.5,"y":4.2e-11},{"x":258,"y":4.5e-11},{"x":261,"y":3.8e-11},{"x":264,"y":4.5e-11},{"x":267,"y":3.8e-11},{"x":270,"y":4.4e-11}],
"b382":[{"x":0,"y":3e-6},{"x":0.5,"y":3e-7},{"x":1,"y":2e-7},{"x":1.5,"y":4e-8},{"x":2,"y":1.2e-8},{"x":2.4,"y":7.9e-9},{"x":3,"y":1.2e-8},{"x":3.6,"y":1.8e-8},{"x":4.4,"y":2.1e-8},{"x":5.2,"y":1.5e-8},{"x":6.1,"y":1.2e-8},{"x":7,"y":2e-9},{"x":7.8,"y":4.5e-10},{"x":8.6,"y":1.6e-10},{"x":9.5,"y":1.2e-10},{"x":10.5,"y":7e-11},{"x":12,"y":5.5e-11},{"x":13.5,"y":6.5e-11},{"x":14.5,"y":5e-11},{"x":15,"y":6.3e-10},{"x":15.5,"y":1e-10},{"x":16,"y":4e-10},{"x":16.5,"y":1.2e-10},{"x":17,"y":3.2e-10},{"x":17.5,"y":1e-10},{"x":18,"y":6e-10},{"x":18.5,"y":1.5e-10},{"x":19,"y":2.5e-10},{"x":19.5,"y":8e-10},{"x":20,"y":2e-10},{"x":20.5,"y":3.2e-9},{"x":21,"y":3e-10},{"x":21.6,"y":1.6e-7},{"x":22,"y":5e-10},{"x":22.5,"y":1.6e-6},{"x":22.9,"y":8e-10},{"x":23.3,"y":6.3e-6},{"x":23.6,"y":1e-9},{"x":23.8,"y":2.1e-5},{"x":24.1,"y":1e-9},{"x":24.5,"y":3.2e-6},{"x":24.9,"y":8e-10},{"x":25.5,"y":5e-7},{"x":25.9,"y":5e-10},{"x":26.5,"y":3.2e-7},{"x":26.9,"y":1e-8},{"x":27.5,"y":1e-7},{"x":27.9,"y":5e-10},{"x":28.5,"y":3.2e-8},{"x":28.9,"y":1e-9},{"x":29.3,"y":1e-8},{"x":29.8,"y":3e-10},{"x":30.5,"y":1.6e-9},{"x":31,"y":2e-10},{"x":31.5,"y":1e-9},{"x":32,"y":1.5e-10},{"x":32.4,"y":4e-9},{"x":33,"y":2e-10},{"x":34,"y":1.26e-10},{"x":35,"y":1e-10},{"x":35.8,"y":2.2e-9},{"x":36.3,"y":1e-10},{"x":37,"y":6e-11},{"x":40,"y":5e-11},{"x":43,"y":6e-11},{"x":46,"y":4.8e-11},{"x":47.6,"y":6e-11},{"x":48.1,"y":2.2e-9},{"x":48.6,"y":6e-11},{"x":51,"y":5e-11},{"x":54,"y":6.2e-11},{"x":57,"y":4.8e-11},{"x":60,"y":5.8e-11},{"x":63,"y":4.6e-11},{"x":66,"y":5.5e-11},{"x":69,"y":4.5e-11},{"x":72,"y":5.8e-11},{"x":75,"y":4.6e-11},{"x":78,"y":5.5e-11},{"x":81,"y":4.5e-11},{"x":84,"y":5.6e-11},{"x":87,"y":4.4e-11},{"x":90,"y":5.4e-11},{"x":93,"y":4.5e-11},{"x":96,"y":5.6e-11},{"x":99,"y":4.3e-11},{"x":102,"y":5.3e-11},{"x":105,"y":4.4e-11},{"x":108,"y":5.2e-11},{"x":111,"y":4.2e-11},{"x":114,"y":5.3e-11},{"x":117,"y":4.3e-11},{"x":120,"y":5.1e-11},{"x":123,"y":4.2e-11},{"x":126,"y":5.2e-11},{"x":129,"y":4.1e-11},{"x":132,"y":5e-11},{"x":135,"y":4.2e-11},{"x":138,"y":5.1e-11},{"x":141,"y":4e-11},{"x":144,"y":4.9e-11},{"x":147,"y":4.1e-11},{"x":150,"y":5e-11},{"x":153,"y":4e-11},{"x":156,"y":4.8e-11},{"x":159,"y":4e-11},{"x":162,"y":4.9e-11},{"x":165,"y":3.9e-11},{"x":168,"y":4.8e-11},{"x":171,"y":4e-11},{"x":174,"y":4.6e-11},{"x":177,"y":3.8e-11},{"x":180,"y":4.7e-11},{"x":183,"y":3.9e-11},{"x":186,"y":5.5e-11},{"x":189,"y":4e-11},{"x":192,"y":4.5e-11},{"x":195,"y":3.8e-11},{"x":198,"y":4.6e-11},{"x":201,"y":3.7e-11},{"x":204,"y":4.5e-11},{"x":207,"y":3.8e-11},{"x":210,"y":4.4e-11},{"x":213,"y":3.6e-11},{"x":216,"y":4.4e-11},{"x":219,"y":3.7e-11},{"x":222,"y":4.3e-11},{"x":225,"y":3.6e-11},{"x":228,"y":4.3e-11},{"x":231,"y":3.6e-11},{"x":234,"y":4.2e-11},{"x":237,"y":3.5e-11},{"x":240,"y":4.2e-11},{"x":243,"y":3.6e-11},{"x":246,"y":4.1e-11},{"x":249,"y":3.5e-11},{"x":252,"y":4.1e-11},{"x":255,"y":3.4e-11},{"x":258,"y":4e-11},{"x":261,"y":3.5e-11},{"x":264,"y":4.1e-11},{"x":267,"y":3.4e-11},{"x":270,"y":3.8e-11}],
"b328":[{"x":0,"y":1.6e-6},{"x":0.5,"y":1e-7},{"x":1,"y":3.2e-8},{"x":1.5,"y":8e-9},{"x":2.4,"y":3.2e-9},{"x":3.3,"y":4e-9},{"x":4.4,"y":5e-9},{"x":5.2,"y":4e-9},{"x":6.1,"y":2.5e-9},{"x":7,"y":8e-10},{"x":7.8,"y":2.3e-10},{"x":8.6,"y":1e-10},{"x":9.5,"y":8e-11},{"x":10.5,"y":7e-11},{"x":12,"y":9e-11},{"x":13,"y":7e-11},{"x":14,"y":8.5e-11},{"x":15,"y":8.5e-10},{"x":15.5,"y":7e-11},{"x":16,"y":1.2e-9},{"x":16.5,"y":8e-11},{"x":17,"y":1.5e-9},{"x":17.5,"y":7e-11},{"x":18,"y":3e-9},{"x":18.5,"y":9e-11},{"x":19,"y":5e-9},{"x":19.5,"y":8e-11},{"x":20,"y":1e-8},{"x":20.5,"y":7e-11},{"x":21,"y":1.5e-8},{"x":21.5,"y":1e-10},{"x":22,"y":2.3e-8},{"x":22.5,"y":9e-11},{"x":23,"y":5e-8},{"x":23.4,"y":1e-10},{"x":23.8,"y":6.3e-7},{"x":24.2,"y":1e-10},{"x":24.6,"y":1e-7},{"x":25,"y":8e-11},{"x":25.5,"y":3e-8},{"x":26,"y":8e-11},{"x":26.5,"y":1e-8},{"x":27,"y":7e-11},{"x":27.5,"y":5e-9},{"x":28,"y":8e-11},{"x":28.5,"y":2e-9},{"x":29,"y":7e-11},{"x":29.5,"y":1e-9},{"x":30,"y":8e-11},{"x":30.5,"y":5e-10},{"x":31,"y":8e-11},{"x":31.5,"y":3e-10},{"x":32,"y":7e-11},{"x":33,"y":1.5e-10},{"x":35,"y":7e-11},{"x":38,"y":9e-11},{"x":41,"y":7.5e-11},{"x":44,"y":8.5e-11},{"x":47,"y":7e-11},{"x":50,"y":9e-11},{"x":53,"y":7e-11},{"x":56,"y":8e-11},{"x":59,"y":6.5e-11},{"x":62,"y":8e-11},{"x":65,"y":7e-11},{"x":68,"y":8.5e-11},{"x":71,"y":6.5e-11},{"x":74,"y":8e-11},{"x":77,"y":7e-11},{"x":80,"y":9e-11},{"x":83,"y":6.8e-11},{"x":86,"y":8e-11},{"x":89,"y":6.5e-11},{"x":92,"y":7.5e-11},{"x":95,"y":8.5e-11},{"x":98,"y":6.5e-11},{"x":101,"y":8e-11},{"x":104,"y":6.5e-11},{"x":107,"y":7.5e-11},{"x":110,"y":6e-11},{"x":113,"y":7.5e-11},{"x":116,"y":6.5e-11},{"x":119,"y":8e-11},{"x":122,"y":6e-11},{"x":125,"y":7.5e-11},{"x":128,"y":8.5e-11},{"x":131,"y":6.5e-11},{"x":134,"y":7.5e-11},{"x":137,"y":6e-11},{"x":140,"y":7.5e-11},{"x":143,"y":6.5e-11},{"x":146,"y":8e-11},{"x":149,"y":6e-11},{"x":152,"y":7e-11},{"x":153,"y":9e-11},{"x":153.4,"y":5.4e-10},{"x":153.8,"y":9e-11},{"x":156,"y":6.5e-11},{"x":159,"y":7.5e-11},{"x":162,"y":6e-11},{"x":165,"y":8e-11},{"x":168,"y":6.5e-11},{"x":171,"y":7e-11},{"x":174,"y":6e-11},{"x":177,"y":7.5e-11},{"x":180,"y":6.5e-11},{"x":183,"y":9e-11},{"x":185,"y":1.2e-10},{"x":187,"y":7e-11},{"x":190,"y":6e-11},{"x":193,"y":7.5e-11},{"x":196,"y":6e-11},{"x":199,"y":7e-11},{"x":202,"y":5.5e-11},{"x":205,"y":7e-11},{"x":208,"y":6e-11},{"x":211,"y":6.8e-11},{"x":214,"y":5.5e-11},{"x":217,"y":7e-11},{"x":220,"y":6e-11},{"x":223,"y":7e-11},{"x":226,"y":5.5e-11},{"x":229,"y":6.8e-11},{"x":232,"y":6e-11},{"x":235,"y":8e-11},{"x":238,"y":6e-11},{"x":241,"y":7e-11},{"x":244,"y":6e-11},{"x":247,"y":1e-10},{"x":249,"y":6.5e-11},{"x":252,"y":7e-11},{"x":255,"y":6e-11},{"x":258.7,"y":1.1e-10},{"x":261,"y":6.5e-11},{"x":264,"y":7.5e-11},{"x":267,"y":6e-11},{"x":269,"y":9e-11},{"x":270,"y":7e-11}]
},
"vconcat":[
{"width":1038,"height":527,
 "layer":[
  {"data":{"name":"a591"},"mark":{"type":"line","strokeWidth":1,"clip":true},
   "encoding":{
    "x":{"field":"x","type":"quantitative","scale":{"domain":[0,270],"nice":false,"zero":false},
      "axis":{"values":[12,24,36,48,60,72,84,96,108,120,132,144,156,168,180,192,204,216,228,240,252,264],"labelExpr":"datum.value % 24 == 0 ? datum.label : ''","tickSize":-10,"labelPadding":25,"labelOffset":-3,"title":"ω*/Ω*","titleY":56,"titleBaseline":"middle","labelFlush":false}},
    "y":{"field":"y","type":"quantitative","scale":{"type":"log","domain":[3.5e-11,0.032],"nice":false},
      "axis":{"values":[1e-10,1e-8,1e-6,1e-4,1e-2],"tickSize":-11,"labelPadding":23,"title":"E","titleX":-90,"titleY":263,"titleBaseline":"middle",
       "labelExpr":"round(log(datum.value)/LN10)==-2?'10⁻²':round(log(datum.value)/LN10)==-4?'10⁻⁴':round(log(datum.value)/LN10)==-6?'10⁻⁶':round(log(datum.value)/LN10)==-8?'10⁻⁸':'10⁻¹⁰'"}},
    "color":{"datum":"𝑥 = 591","scale":{"domain":["𝑥 = 328","𝑥 = 381","𝑥 = 425","𝑥 = 462","𝑥 = 478","𝑥 = 494","𝑥 = 516","𝑥 = 535","𝑥 = 553","𝑥 = 591"],"range":["#000000","#ff0000","#0000ff","#008000","#bdbd00","#800080","#ff00ff","#00ffff","#ffa000","#008080"]},
      "legend":{"legendX":843,"legendY":19}}}},
  {"data":{"name":"a553"},"mark":{"type":"line","strokeWidth":1,"clip":true},
   "encoding":{"x":{"field":"x","type":"quantitative"},"y":{"field":"y","type":"quantitative","axis":{"orient":"left","grid":true,"values":[4e-11,5e-11,6e-11,7e-11,8e-11,9e-11,2e-10,3e-10,4e-10,5e-10,6e-10,7e-10,8e-10,9e-10,1e-9,2e-9,3e-9,4e-9,5e-9,6e-9,7e-9,8e-9,9e-9,2e-8,3e-8,4e-8,5e-8,6e-8,7e-8,8e-8,9e-8,1e-7,2e-7,3e-7,4e-7,5e-7,6e-7,7e-7,8e-7,9e-7,2e-6,3e-6,4e-6,5e-6,6e-6,7e-6,8e-6,9e-6,1e-5,2e-5,3e-5,4e-5,5e-5,6e-5,7e-5,8e-5,9e-5,2e-4,3e-4,4e-4,5e-4,6e-4,7e-4,8e-4,9e-4,1e-3,2e-3,3e-3,4e-3,5e-3,6e-3,7e-3,8e-3,9e-3,2e-2,3e-2],"labels":false,"domain":false,"tickSize":-5,"gridDash":[2,4],"gridColor":"#c4c4c4","title":null}},"color":{"datum":"𝑥 = 553"}}},
  {"data":{"name":"a535"},"mark":{"type":"line","strokeWidth":1,"clip":true},"encoding":{"x":{"field":"x","type":"quantitative"},"y":{"field":"y","type":"quantitative","axis":null},"color":{"datum":"𝑥 = 535"}}},
  {"data":{"name":"a516"},"mark":{"type":"line","strokeWidth":1,"clip":true},"encoding":{"x":{"field":"x","type":"quantitative"},"y":{"field":"y","type":"quantitative","axis":null},"color":{"datum":"𝑥 = 516"}}},
  {"data":{"name":"a494"},"mark":{"type":"line","strokeWidth":1,"clip":true},"encoding":{"x":{"field":"x","type":"quantitative"},"y":{"field":"y","type":"quantitative","axis":null},"color":{"datum":"𝑥 = 494"}}},
  {"data":{"name":"a478"},"mark":{"type":"line","strokeWidth":1,"clip":true},"encoding":{"x":{"field":"x","type":"quantitative"},"y":{"field":"y","type":"quantitative","axis":null},"color":{"datum":"𝑥 = 478"}}},
  {"data":{"name":"a462"},"mark":{"type":"line","strokeWidth":1,"clip":true},"encoding":{"x":{"field":"x","type":"quantitative"},"y":{"field":"y","type":"quantitative","axis":null},"color":{"datum":"𝑥 = 462"}}},
  {"data":{"name":"a425"},"mark":{"type":"line","strokeWidth":1,"clip":true},"encoding":{"x":{"field":"x","type":"quantitative"},"y":{"field":"y","type":"quantitative","axis":null},"color":{"datum":"𝑥 = 425"}}},
  {"data":{"name":"a381"},"mark":{"type":"line","strokeWidth":1,"clip":true},"encoding":{"x":{"field":"x","type":"quantitative"},"y":{"field":"y","type":"quantitative","axis":null},"color":{"datum":"𝑥 = 381"}}},
  {"data":{"name":"a328"},"mark":{"type":"line","strokeWidth":1,"clip":true},"encoding":{"x":{"field":"x","type":"quantitative"},"y":{"field":"y","type":"quantitative","axis":null},"color":{"datum":"𝑥 = 328"}}},
  {"data":{"values":[{}]},"mark":{"type":"text","font":"Liberation Sans","fontSize":21,"align":"left","baseline":"middle","color":"#262626"},
   "encoding":{"x":{"datum":3.1},"y":{"datum":0.019,"axis":null},"text":{"value":"(a)"}}}
 ],
 "resolve":{"axis":{"y":"independent"}}
},
{"width":1038,"height":532,
 "layer":[
  {"data":{"name":"b554"},"mark":{"type":"line","strokeWidth":1,"clip":true},
   "encoding":{
    "x":{"field":"x","type":"quantitative","scale":{"domain":[0,270],"nice":false,"zero":false},
      "axis":{"values":[12,24,36,48,60,72,84,96,108,120,132,144,156,168,180,192,204,216,228,240,252,264],"labelExpr":"datum.value % 24 == 0 ? datum.label : ''","tickSize":-10,"labelPadding":25,"labelOffset":-3,"title":"ω*/Ω*","titleY":57,"titleBaseline":"middle","labelFlush":false}},
    "y":{"field":"y","type":"quantitative","scale":{"type":"log","domain":[3.2e-11,0.041],"nice":false},
      "axis":{"values":[1e-10,1e-8,1e-6,1e-4,1e-2],"tickSize":-11,"labelPadding":23,"title":"E","titleX":-90,"titleY":266,"titleBaseline":"middle",
       "labelExpr":"round(log(datum.value)/LN10)==-2?'10⁻²':round(log(datum.value)/LN10)==-4?'10⁻⁴':round(log(datum.value)/LN10)==-6?'10⁻⁶':round(log(datum.value)/LN10)==-8?'10⁻⁸':'10⁻¹⁰'"}},
    "color":{"datum":"𝑥 = 554","scale":{"domain":["𝑥 = 328","𝑥 = 382","𝑥 = 425","𝑥 = 462","𝑥 = 478","𝑥 = 495","𝑥 = 516","𝑥 = 537","𝑥 = 554"],"range":["#000000","#ff0000","#0000ff","#008000","#bdbd00","#800080","#ff00ff","#00ffff","#ffa000"]},
      "legend":{"legendX":843,"legendY":24}}}},
  {"data":{"name":"b537"},"mark":{"type":"line","strokeWidth":1,"clip":true},
   "encoding":{"x":{"field":"x","type":"quantitative"},"y":{"field":"y","type":"quantitative","axis":{"orient":"left","grid":true,"values":[4e-11,5e-11,6e-11,7e-11,8e-11,9e-11,2e-10,3e-10,4e-10,5e-10,6e-10,7e-10,8e-10,9e-10,1e-9,2e-9,3e-9,4e-9,5e-9,6e-9,7e-9,8e-9,9e-9,2e-8,3e-8,4e-8,5e-8,6e-8,7e-8,8e-8,9e-8,1e-7,2e-7,3e-7,4e-7,5e-7,6e-7,7e-7,8e-7,9e-7,2e-6,3e-6,4e-6,5e-6,6e-6,7e-6,8e-6,9e-6,1e-5,2e-5,3e-5,4e-5,5e-5,6e-5,7e-5,8e-5,9e-5,2e-4,3e-4,4e-4,5e-4,6e-4,7e-4,8e-4,9e-4,1e-3,2e-3,3e-3,4e-3,5e-3,6e-3,7e-3,8e-3,9e-3,2e-2,3e-2,4e-2],"labels":false,"domain":false,"tickSize":-5,"gridDash":[2,4],"gridColor":"#c4c4c4","title":null}},"color":{"datum":"𝑥 = 537"}}},
  {"data":{"name":"b516"},"mark":{"type":"line","strokeWidth":1,"clip":true},"encoding":{"x":{"field":"x","type":"quantitative"},"y":{"field":"y","type":"quantitative","axis":null},"color":{"datum":"𝑥 = 516"}}},
  {"data":{"name":"b495"},"mark":{"type":"line","strokeWidth":1,"clip":true},"encoding":{"x":{"field":"x","type":"quantitative"},"y":{"field":"y","type":"quantitative","axis":null},"color":{"datum":"𝑥 = 495"}}},
  {"data":{"name":"b478"},"mark":{"type":"line","strokeWidth":1,"clip":true},"encoding":{"x":{"field":"x","type":"quantitative"},"y":{"field":"y","type":"quantitative","axis":null},"color":{"datum":"𝑥 = 478"}}},
  {"data":{"name":"b462"},"mark":{"type":"line","strokeWidth":1,"clip":true},"encoding":{"x":{"field":"x","type":"quantitative"},"y":{"field":"y","type":"quantitative","axis":null},"color":{"datum":"𝑥 = 462"}}},
  {"data":{"name":"b425"},"mark":{"type":"line","strokeWidth":1,"clip":true},"encoding":{"x":{"field":"x","type":"quantitative"},"y":{"field":"y","type":"quantitative","axis":null},"color":{"datum":"𝑥 = 425"}}},
  {"data":{"name":"b382"},"mark":{"type":"line","strokeWidth":1,"clip":true},"encoding":{"x":{"field":"x","type":"quantitative"},"y":{"field":"y","type":"quantitative","axis":null},"color":{"datum":"𝑥 = 382"}}},
  {"data":{"name":"b328"},"mark":{"type":"line","strokeWidth":1,"clip":true},"encoding":{"x":{"field":"x","type":"quantitative"},"y":{"field":"y","type":"quantitative","axis":null},"color":{"datum":"𝑥 = 328"}}},
  {"data":{"values":[{}]},"mark":{"type":"text","font":"Liberation Sans","fontSize":21,"align":"left","baseline":"middle","color":"#262626"},
   "encoding":{"x":{"datum":3.1},"y":{"datum":0.022,"axis":null},"text":{"value":"(b)"}}}
 ],
 "resolve":{"axis":{"y":"independent"}}
}
]
}
